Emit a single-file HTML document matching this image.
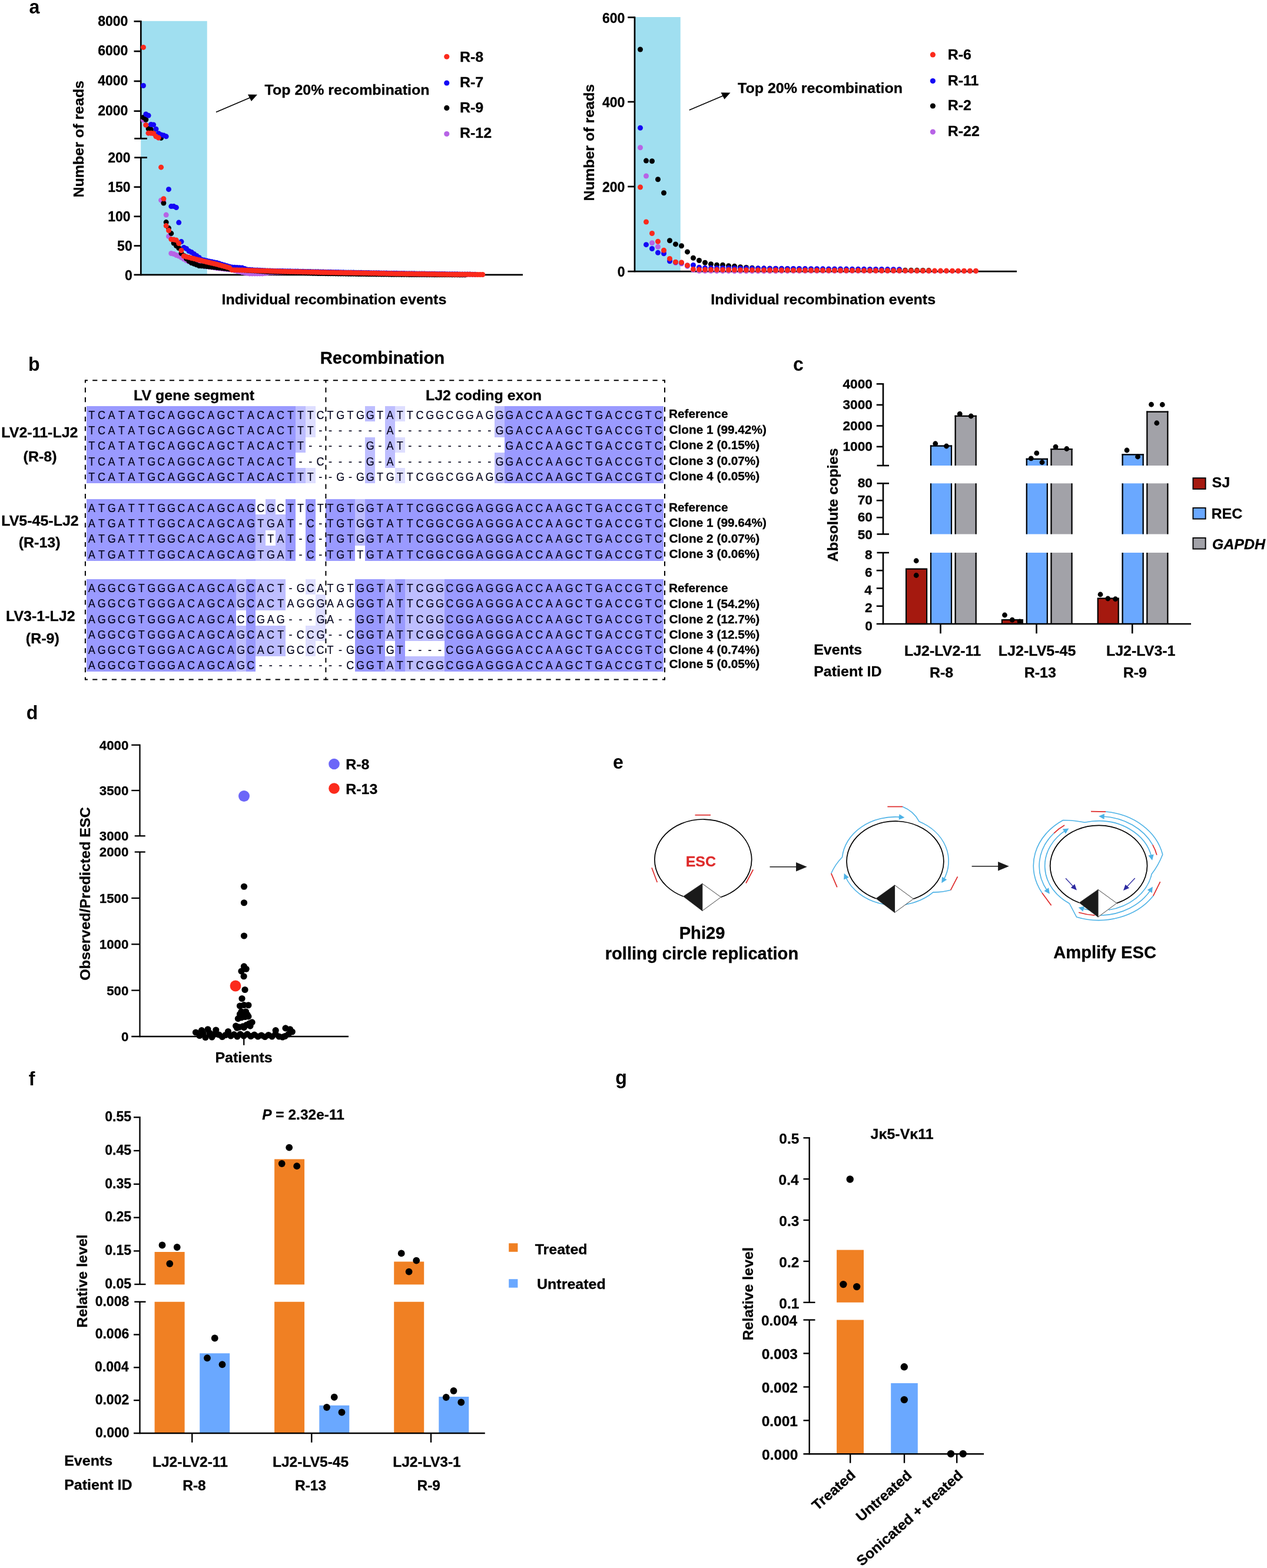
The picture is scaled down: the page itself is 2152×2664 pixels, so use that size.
<!DOCTYPE html>
<html lang="en">
<head>
<meta charset="utf-8">
<title>Figure</title>
<style>
html,body{margin:0;padding:0;background:#fff;}
body{width:2152px;height:2664px;overflow:hidden;}
svg{display:block;}
svg text{font-family:"Liberation Sans", Arial, Helvetica, sans-serif;font-weight:bold;white-space:pre;stroke:#000;stroke-width:.3px;}
svg text.n{font-weight:normal;stroke-width:.18px;fill:#05051e;stroke:#05051e;}
svg .i{font-style:italic;}
svg text.p{stroke:none;}
</style>
</head>
<body>
<svg xmlns="http://www.w3.org/2000/svg" width="2152" height="2664" viewBox="0 0 2152 2664">
<rect x="0" y="0" width="2152" height="2664" fill="#ffffff"/>
<rect x="239.20" y="35.75" width="112.55" height="431.65" fill="#a0dff0" />
<line x1="239.30" y1="34.90" x2="239.30" y2="235.40" stroke="#000" stroke-width="2.7" />
<line x1="239.30" y1="267.70" x2="239.30" y2="468.25" stroke="#000" stroke-width="2.7" />
<line x1="227.50" y1="36.25" x2="239.30" y2="36.25" stroke="#000" stroke-width="2.7" />
<line x1="227.50" y1="87.08" x2="239.30" y2="87.08" stroke="#000" stroke-width="2.7" />
<line x1="227.50" y1="137.92" x2="239.30" y2="137.92" stroke="#000" stroke-width="2.7" />
<line x1="227.50" y1="188.75" x2="239.30" y2="188.75" stroke="#000" stroke-width="2.7" />
<line x1="228.20" y1="235.40" x2="249.90" y2="235.40" stroke="#000" stroke-width="2.7" />
<line x1="228.20" y1="267.70" x2="249.90" y2="267.70" stroke="#000" stroke-width="2.7" />
<line x1="227.50" y1="317.75" x2="239.30" y2="317.75" stroke="#000" stroke-width="2.7" />
<line x1="227.50" y1="367.75" x2="239.30" y2="367.75" stroke="#000" stroke-width="2.7" />
<line x1="227.50" y1="417.60" x2="239.30" y2="417.60" stroke="#000" stroke-width="2.7" />
<line x1="227.50" y1="466.90" x2="888.00" y2="466.90" stroke="#000" stroke-width="2.7" />
<circle cx="243.50" cy="204.00" r="4.5" fill="#b763e6"/>
<circle cx="247.80" cy="212.39" r="4.5" fill="#b763e6"/>
<circle cx="252.10" cy="226.19" r="4.5" fill="#b763e6"/>
<circle cx="256.40" cy="226.19" r="4.5" fill="#b763e6"/>
<circle cx="260.70" cy="226.70" r="4.5" fill="#b763e6"/>
<circle cx="265.00" cy="231.81" r="4.5" fill="#b763e6"/>
<circle cx="269.30" cy="234.12" r="4.5" fill="#b763e6"/>
<circle cx="273.60" cy="340.13" r="4.5" fill="#b763e6"/>
<circle cx="277.90" cy="341.63" r="4.5" fill="#b763e6"/>
<circle cx="282.20" cy="365.10" r="4.5" fill="#b763e6"/>
<circle cx="286.50" cy="401.57" r="4.5" fill="#b763e6"/>
<circle cx="290.80" cy="430.54" r="4.5" fill="#b763e6"/>
<circle cx="295.10" cy="431.54" r="4.5" fill="#b763e6"/>
<circle cx="299.40" cy="433.53" r="4.5" fill="#b763e6"/>
<circle cx="303.70" cy="435.03" r="4.5" fill="#b763e6"/>
<circle cx="308.00" cy="437.53" r="4.5" fill="#b763e6"/>
<circle cx="312.30" cy="440.03" r="4.5" fill="#b763e6"/>
<circle cx="316.60" cy="442.52" r="4.5" fill="#b763e6"/>
<circle cx="320.90" cy="444.52" r="4.5" fill="#b763e6"/>
<circle cx="325.20" cy="446.52" r="4.5" fill="#b763e6"/>
<circle cx="329.50" cy="447.77" r="4.5" fill="#b763e6"/>
<circle cx="333.80" cy="449.02" r="4.5" fill="#b763e6"/>
<circle cx="338.10" cy="450.27" r="4.5" fill="#b763e6"/>
<circle cx="342.40" cy="451.52" r="4.5" fill="#b763e6"/>
<circle cx="346.70" cy="452.18" r="4.5" fill="#b763e6"/>
<circle cx="351.00" cy="452.85" r="4.5" fill="#b763e6"/>
<circle cx="355.30" cy="453.51" r="4.5" fill="#b763e6"/>
<circle cx="359.60" cy="454.18" r="4.5" fill="#b763e6"/>
<circle cx="363.90" cy="454.85" r="4.5" fill="#b763e6"/>
<circle cx="368.20" cy="455.51" r="4.5" fill="#b763e6"/>
<circle cx="372.50" cy="456.01" r="4.5" fill="#b763e6"/>
<circle cx="376.80" cy="456.51" r="4.5" fill="#b763e6"/>
<circle cx="381.10" cy="457.01" r="4.5" fill="#b763e6"/>
<circle cx="385.40" cy="457.51" r="4.5" fill="#b763e6"/>
<circle cx="389.70" cy="458.01" r="4.5" fill="#b763e6"/>
<circle cx="394.00" cy="458.51" r="4.5" fill="#b763e6"/>
<circle cx="398.30" cy="459.51" r="4.5" fill="#b763e6"/>
<circle cx="402.60" cy="460.51" r="4.5" fill="#b763e6"/>
<circle cx="406.90" cy="461.51" r="4.5" fill="#b763e6"/>
<circle cx="411.20" cy="462.50" r="4.5" fill="#b763e6"/>
<circle cx="415.50" cy="463.30" r="4.5" fill="#b763e6"/>
<circle cx="419.80" cy="464.10" r="4.5" fill="#b763e6"/>
<circle cx="424.10" cy="464.90" r="4.5" fill="#b763e6"/>
<circle cx="428.40" cy="464.90" r="4.5" fill="#b763e6"/>
<circle cx="432.70" cy="464.90" r="4.5" fill="#b763e6"/>
<circle cx="437.00" cy="464.90" r="4.5" fill="#b763e6"/>
<circle cx="441.30" cy="464.90" r="4.5" fill="#b763e6"/>
<circle cx="445.60" cy="464.90" r="4.5" fill="#b763e6"/>
<circle cx="449.90" cy="464.27" r="4.5" fill="#b763e6"/>
<circle cx="454.20" cy="463.64" r="4.5" fill="#b763e6"/>
<circle cx="458.50" cy="463.00" r="4.5" fill="#b763e6"/>
<circle cx="462.80" cy="462.95" r="4.5" fill="#b763e6"/>
<circle cx="467.10" cy="462.89" r="4.5" fill="#b763e6"/>
<circle cx="471.40" cy="462.84" r="4.5" fill="#b763e6"/>
<circle cx="475.70" cy="462.78" r="4.5" fill="#b763e6"/>
<circle cx="480.00" cy="462.73" r="4.5" fill="#b763e6"/>
<circle cx="484.30" cy="462.67" r="4.5" fill="#b763e6"/>
<circle cx="488.60" cy="462.62" r="4.5" fill="#b763e6"/>
<circle cx="492.90" cy="462.56" r="4.5" fill="#b763e6"/>
<circle cx="497.20" cy="462.50" r="4.5" fill="#b763e6"/>
<circle cx="501.50" cy="462.56" r="4.5" fill="#b763e6"/>
<circle cx="505.80" cy="462.62" r="4.5" fill="#b763e6"/>
<circle cx="510.10" cy="462.68" r="4.5" fill="#b763e6"/>
<circle cx="514.40" cy="462.74" r="4.5" fill="#b763e6"/>
<circle cx="518.70" cy="462.80" r="4.5" fill="#b763e6"/>
<circle cx="523.00" cy="462.86" r="4.5" fill="#b763e6"/>
<circle cx="527.30" cy="462.92" r="4.5" fill="#b763e6"/>
<circle cx="531.60" cy="462.98" r="4.5" fill="#b763e6"/>
<circle cx="535.90" cy="463.04" r="4.5" fill="#b763e6"/>
<circle cx="540.20" cy="463.10" r="4.5" fill="#b763e6"/>
<circle cx="544.50" cy="463.16" r="4.5" fill="#b763e6"/>
<circle cx="548.80" cy="463.22" r="4.5" fill="#b763e6"/>
<circle cx="553.10" cy="463.28" r="4.5" fill="#b763e6"/>
<circle cx="557.40" cy="463.34" r="4.5" fill="#b763e6"/>
<circle cx="561.70" cy="463.40" r="4.5" fill="#b763e6"/>
<circle cx="566.00" cy="463.46" r="4.5" fill="#b763e6"/>
<circle cx="570.30" cy="463.52" r="4.5" fill="#b763e6"/>
<circle cx="574.60" cy="463.58" r="4.5" fill="#b763e6"/>
<circle cx="578.90" cy="463.64" r="4.5" fill="#b763e6"/>
<circle cx="583.20" cy="463.70" r="4.5" fill="#b763e6"/>
<circle cx="587.50" cy="463.78" r="4.5" fill="#b763e6"/>
<circle cx="591.80" cy="463.86" r="4.5" fill="#b763e6"/>
<circle cx="596.10" cy="463.94" r="4.5" fill="#b763e6"/>
<circle cx="600.40" cy="464.02" r="4.5" fill="#b763e6"/>
<circle cx="604.70" cy="464.10" r="4.5" fill="#b763e6"/>
<circle cx="609.00" cy="464.18" r="4.5" fill="#b763e6"/>
<circle cx="613.30" cy="464.26" r="4.5" fill="#b763e6"/>
<circle cx="617.60" cy="464.34" r="4.5" fill="#b763e6"/>
<circle cx="621.90" cy="464.42" r="4.5" fill="#b763e6"/>
<circle cx="626.20" cy="464.50" r="4.5" fill="#b763e6"/>
<circle cx="630.50" cy="464.58" r="4.5" fill="#b763e6"/>
<circle cx="634.80" cy="464.66" r="4.5" fill="#b763e6"/>
<circle cx="639.10" cy="464.74" r="4.5" fill="#b763e6"/>
<circle cx="643.40" cy="464.82" r="4.5" fill="#b763e6"/>
<circle cx="647.70" cy="464.90" r="4.5" fill="#b763e6"/>
<circle cx="652.00" cy="464.98" r="4.5" fill="#b763e6"/>
<circle cx="656.30" cy="465.06" r="4.5" fill="#b763e6"/>
<circle cx="660.60" cy="465.14" r="4.5" fill="#b763e6"/>
<circle cx="664.90" cy="465.22" r="4.5" fill="#b763e6"/>
<circle cx="669.20" cy="465.30" r="4.5" fill="#b763e6"/>
<circle cx="673.50" cy="465.37" r="4.5" fill="#b763e6"/>
<circle cx="677.80" cy="465.44" r="4.5" fill="#b763e6"/>
<circle cx="682.10" cy="465.50" r="4.5" fill="#b763e6"/>
<circle cx="686.40" cy="465.57" r="4.5" fill="#b763e6"/>
<circle cx="690.70" cy="465.64" r="4.5" fill="#b763e6"/>
<circle cx="695.00" cy="465.70" r="4.5" fill="#b763e6"/>
<circle cx="699.30" cy="465.77" r="4.5" fill="#b763e6"/>
<circle cx="703.60" cy="465.83" r="4.5" fill="#b763e6"/>
<circle cx="707.90" cy="465.90" r="4.5" fill="#b763e6"/>
<circle cx="712.20" cy="465.97" r="4.5" fill="#b763e6"/>
<circle cx="716.50" cy="466.03" r="4.5" fill="#b763e6"/>
<circle cx="720.80" cy="466.10" r="4.5" fill="#b763e6"/>
<circle cx="725.10" cy="466.17" r="4.5" fill="#b763e6"/>
<circle cx="729.40" cy="466.23" r="4.5" fill="#b763e6"/>
<circle cx="733.70" cy="466.30" r="4.5" fill="#b763e6"/>
<circle cx="738.00" cy="466.37" r="4.5" fill="#b763e6"/>
<circle cx="742.30" cy="466.43" r="4.5" fill="#b763e6"/>
<circle cx="746.60" cy="466.50" r="4.5" fill="#b763e6"/>
<circle cx="243.50" cy="199.50" r="4.5" fill="#000000"/>
<circle cx="247.80" cy="203.21" r="4.5" fill="#000000"/>
<circle cx="252.10" cy="218.79" r="4.5" fill="#000000"/>
<circle cx="256.40" cy="219.81" r="4.5" fill="#000000"/>
<circle cx="260.70" cy="226.37" r="4.5" fill="#000000"/>
<circle cx="265.00" cy="230.43" r="4.5" fill="#000000"/>
<circle cx="269.30" cy="233.23" r="4.5" fill="#000000"/>
<circle cx="273.60" cy="234.42" r="4.5" fill="#000000"/>
<circle cx="277.90" cy="345.12" r="4.5" fill="#000000"/>
<circle cx="282.20" cy="377.59" r="4.5" fill="#000000"/>
<circle cx="286.50" cy="387.58" r="4.5" fill="#000000"/>
<circle cx="290.80" cy="396.57" r="4.5" fill="#000000"/>
<circle cx="295.10" cy="413.05" r="4.5" fill="#000000"/>
<circle cx="299.40" cy="417.55" r="4.5" fill="#000000"/>
<circle cx="303.70" cy="421.55" r="4.5" fill="#000000"/>
<circle cx="308.00" cy="430.54" r="4.5" fill="#000000"/>
<circle cx="312.30" cy="434.53" r="4.5" fill="#000000"/>
<circle cx="316.60" cy="439.53" r="4.5" fill="#000000"/>
<circle cx="320.90" cy="443.52" r="4.5" fill="#000000"/>
<circle cx="325.20" cy="446.52" r="4.5" fill="#000000"/>
<circle cx="329.50" cy="448.19" r="4.5" fill="#000000"/>
<circle cx="333.80" cy="449.85" r="4.5" fill="#000000"/>
<circle cx="338.10" cy="451.52" r="4.5" fill="#000000"/>
<circle cx="342.40" cy="451.85" r="4.5" fill="#000000"/>
<circle cx="346.70" cy="452.18" r="4.5" fill="#000000"/>
<circle cx="351.00" cy="452.51" r="4.5" fill="#000000"/>
<circle cx="355.30" cy="453.01" r="4.5" fill="#000000"/>
<circle cx="359.60" cy="453.51" r="4.5" fill="#000000"/>
<circle cx="363.90" cy="454.01" r="4.5" fill="#000000"/>
<circle cx="368.20" cy="454.51" r="4.5" fill="#000000"/>
<circle cx="372.50" cy="455.01" r="4.5" fill="#000000"/>
<circle cx="376.80" cy="455.51" r="4.5" fill="#000000"/>
<circle cx="381.10" cy="456.01" r="4.5" fill="#000000"/>
<circle cx="385.40" cy="456.51" r="4.5" fill="#000000"/>
<circle cx="389.70" cy="457.01" r="4.5" fill="#000000"/>
<circle cx="394.00" cy="457.51" r="4.5" fill="#000000"/>
<circle cx="398.30" cy="457.80" r="4.5" fill="#000000"/>
<circle cx="402.60" cy="458.08" r="4.5" fill="#000000"/>
<circle cx="406.90" cy="458.37" r="4.5" fill="#000000"/>
<circle cx="411.20" cy="458.65" r="4.5" fill="#000000"/>
<circle cx="415.50" cy="458.94" r="4.5" fill="#000000"/>
<circle cx="419.80" cy="459.22" r="4.5" fill="#000000"/>
<circle cx="424.10" cy="459.51" r="4.5" fill="#000000"/>
<circle cx="428.40" cy="459.79" r="4.5" fill="#000000"/>
<circle cx="432.70" cy="460.08" r="4.5" fill="#000000"/>
<circle cx="437.00" cy="460.36" r="4.5" fill="#000000"/>
<circle cx="441.30" cy="460.65" r="4.5" fill="#000000"/>
<circle cx="445.60" cy="460.94" r="4.5" fill="#000000"/>
<circle cx="449.90" cy="461.22" r="4.5" fill="#000000"/>
<circle cx="454.20" cy="461.51" r="4.5" fill="#000000"/>
<circle cx="458.50" cy="461.66" r="4.5" fill="#000000"/>
<circle cx="462.80" cy="461.81" r="4.5" fill="#000000"/>
<circle cx="467.10" cy="461.96" r="4.5" fill="#000000"/>
<circle cx="471.40" cy="462.11" r="4.5" fill="#000000"/>
<circle cx="475.70" cy="462.26" r="4.5" fill="#000000"/>
<circle cx="480.00" cy="462.41" r="4.5" fill="#000000"/>
<circle cx="484.30" cy="462.55" r="4.5" fill="#000000"/>
<circle cx="488.60" cy="462.70" r="4.5" fill="#000000"/>
<circle cx="492.90" cy="462.85" r="4.5" fill="#000000"/>
<circle cx="497.20" cy="463.00" r="4.5" fill="#000000"/>
<circle cx="501.50" cy="463.15" r="4.5" fill="#000000"/>
<circle cx="505.80" cy="463.30" r="4.5" fill="#000000"/>
<circle cx="510.10" cy="463.45" r="4.5" fill="#000000"/>
<circle cx="514.40" cy="463.60" r="4.5" fill="#000000"/>
<circle cx="518.70" cy="463.75" r="4.5" fill="#000000"/>
<circle cx="523.00" cy="463.90" r="4.5" fill="#000000"/>
<circle cx="527.30" cy="464.05" r="4.5" fill="#000000"/>
<circle cx="531.60" cy="464.20" r="4.5" fill="#000000"/>
<circle cx="535.90" cy="464.35" r="4.5" fill="#000000"/>
<circle cx="540.20" cy="464.50" r="4.5" fill="#000000"/>
<circle cx="544.50" cy="464.56" r="4.5" fill="#000000"/>
<circle cx="548.80" cy="464.62" r="4.5" fill="#000000"/>
<circle cx="553.10" cy="464.68" r="4.5" fill="#000000"/>
<circle cx="557.40" cy="464.74" r="4.5" fill="#000000"/>
<circle cx="561.70" cy="464.80" r="4.5" fill="#000000"/>
<circle cx="566.00" cy="464.86" r="4.5" fill="#000000"/>
<circle cx="570.30" cy="464.92" r="4.5" fill="#000000"/>
<circle cx="574.60" cy="464.98" r="4.5" fill="#000000"/>
<circle cx="578.90" cy="465.04" r="4.5" fill="#000000"/>
<circle cx="583.20" cy="465.10" r="4.5" fill="#000000"/>
<circle cx="587.50" cy="465.16" r="4.5" fill="#000000"/>
<circle cx="591.80" cy="465.22" r="4.5" fill="#000000"/>
<circle cx="596.10" cy="465.28" r="4.5" fill="#000000"/>
<circle cx="600.40" cy="465.34" r="4.5" fill="#000000"/>
<circle cx="604.70" cy="465.40" r="4.5" fill="#000000"/>
<circle cx="609.00" cy="465.46" r="4.5" fill="#000000"/>
<circle cx="613.30" cy="465.52" r="4.5" fill="#000000"/>
<circle cx="617.60" cy="465.58" r="4.5" fill="#000000"/>
<circle cx="621.90" cy="465.64" r="4.5" fill="#000000"/>
<circle cx="626.20" cy="465.70" r="4.5" fill="#000000"/>
<circle cx="630.50" cy="465.76" r="4.5" fill="#000000"/>
<circle cx="634.80" cy="465.82" r="4.5" fill="#000000"/>
<circle cx="639.10" cy="465.88" r="4.5" fill="#000000"/>
<circle cx="643.40" cy="465.94" r="4.5" fill="#000000"/>
<circle cx="647.70" cy="466.00" r="4.5" fill="#000000"/>
<circle cx="652.00" cy="466.06" r="4.5" fill="#000000"/>
<circle cx="656.30" cy="466.12" r="4.5" fill="#000000"/>
<circle cx="660.60" cy="466.18" r="4.5" fill="#000000"/>
<circle cx="664.90" cy="466.24" r="4.5" fill="#000000"/>
<circle cx="669.20" cy="466.30" r="4.5" fill="#000000"/>
<circle cx="673.50" cy="466.33" r="4.5" fill="#000000"/>
<circle cx="677.80" cy="466.35" r="4.5" fill="#000000"/>
<circle cx="682.10" cy="466.38" r="4.5" fill="#000000"/>
<circle cx="686.40" cy="466.40" r="4.5" fill="#000000"/>
<circle cx="690.70" cy="466.43" r="4.5" fill="#000000"/>
<circle cx="695.00" cy="466.45" r="4.5" fill="#000000"/>
<circle cx="699.30" cy="466.48" r="4.5" fill="#000000"/>
<circle cx="703.60" cy="466.50" r="4.5" fill="#000000"/>
<circle cx="707.90" cy="466.53" r="4.5" fill="#000000"/>
<circle cx="712.20" cy="466.55" r="4.5" fill="#000000"/>
<circle cx="716.50" cy="466.58" r="4.5" fill="#000000"/>
<circle cx="720.80" cy="466.60" r="4.5" fill="#000000"/>
<circle cx="725.10" cy="466.63" r="4.5" fill="#000000"/>
<circle cx="729.40" cy="466.65" r="4.5" fill="#000000"/>
<circle cx="733.70" cy="466.68" r="4.5" fill="#000000"/>
<circle cx="738.00" cy="466.70" r="4.5" fill="#000000"/>
<circle cx="742.30" cy="466.73" r="4.5" fill="#000000"/>
<circle cx="746.60" cy="466.75" r="4.5" fill="#000000"/>
<circle cx="750.90" cy="466.78" r="4.5" fill="#000000"/>
<circle cx="755.20" cy="466.80" r="4.5" fill="#000000"/>
<circle cx="759.50" cy="466.83" r="4.5" fill="#000000"/>
<circle cx="763.80" cy="466.85" r="4.5" fill="#000000"/>
<circle cx="768.10" cy="466.88" r="4.5" fill="#000000"/>
<circle cx="772.40" cy="466.90" r="4.5" fill="#000000"/>
<circle cx="776.70" cy="466.93" r="4.5" fill="#000000"/>
<circle cx="781.00" cy="466.95" r="4.5" fill="#000000"/>
<circle cx="785.30" cy="466.98" r="4.5" fill="#000000"/>
<circle cx="789.60" cy="467.00" r="4.5" fill="#000000"/>
<circle cx="243.50" cy="145.54" r="4.5" fill="#1408f5"/>
<circle cx="247.80" cy="194.01" r="4.5" fill="#1408f5"/>
<circle cx="252.10" cy="196.30" r="4.5" fill="#1408f5"/>
<circle cx="256.40" cy="211.50" r="4.5" fill="#1408f5"/>
<circle cx="260.70" cy="211.88" r="4.5" fill="#1408f5"/>
<circle cx="265.00" cy="219.25" r="4.5" fill="#1408f5"/>
<circle cx="269.30" cy="226.70" r="4.5" fill="#1408f5"/>
<circle cx="273.60" cy="229.01" r="4.5" fill="#1408f5"/>
<circle cx="277.90" cy="229.93" r="4.5" fill="#1408f5"/>
<circle cx="282.20" cy="231.81" r="4.5" fill="#1408f5"/>
<circle cx="286.50" cy="321.65" r="4.5" fill="#1408f5"/>
<circle cx="290.80" cy="350.62" r="4.5" fill="#1408f5"/>
<circle cx="295.10" cy="350.62" r="4.5" fill="#1408f5"/>
<circle cx="299.40" cy="352.62" r="4.5" fill="#1408f5"/>
<circle cx="303.70" cy="378.09" r="4.5" fill="#1408f5"/>
<circle cx="308.00" cy="410.56" r="4.5" fill="#1408f5"/>
<circle cx="312.30" cy="420.55" r="4.5" fill="#1408f5"/>
<circle cx="316.60" cy="422.55" r="4.5" fill="#1408f5"/>
<circle cx="320.90" cy="426.54" r="4.5" fill="#1408f5"/>
<circle cx="325.20" cy="428.54" r="4.5" fill="#1408f5"/>
<circle cx="329.50" cy="431.54" r="4.5" fill="#1408f5"/>
<circle cx="333.80" cy="434.53" r="4.5" fill="#1408f5"/>
<circle cx="338.10" cy="437.53" r="4.5" fill="#1408f5"/>
<circle cx="342.40" cy="441.03" r="4.5" fill="#1408f5"/>
<circle cx="346.70" cy="442.03" r="4.5" fill="#1408f5"/>
<circle cx="351.00" cy="443.02" r="4.5" fill="#1408f5"/>
<circle cx="355.30" cy="443.90" r="4.5" fill="#1408f5"/>
<circle cx="359.60" cy="444.77" r="4.5" fill="#1408f5"/>
<circle cx="363.90" cy="445.65" r="4.5" fill="#1408f5"/>
<circle cx="368.20" cy="446.52" r="4.5" fill="#1408f5"/>
<circle cx="372.50" cy="447.85" r="4.5" fill="#1408f5"/>
<circle cx="376.80" cy="449.19" r="4.5" fill="#1408f5"/>
<circle cx="381.10" cy="450.52" r="4.5" fill="#1408f5"/>
<circle cx="385.40" cy="451.77" r="4.5" fill="#1408f5"/>
<circle cx="389.70" cy="453.01" r="4.5" fill="#1408f5"/>
<circle cx="394.00" cy="454.01" r="4.5" fill="#1408f5"/>
<circle cx="398.30" cy="454.26" r="4.5" fill="#1408f5"/>
<circle cx="402.60" cy="454.51" r="4.5" fill="#1408f5"/>
<circle cx="406.90" cy="454.76" r="4.5" fill="#1408f5"/>
<circle cx="411.20" cy="455.01" r="4.5" fill="#1408f5"/>
<circle cx="415.50" cy="456.51" r="4.5" fill="#1408f5"/>
<circle cx="419.80" cy="458.01" r="4.5" fill="#1408f5"/>
<circle cx="424.10" cy="458.31" r="4.5" fill="#1408f5"/>
<circle cx="428.40" cy="458.61" r="4.5" fill="#1408f5"/>
<circle cx="432.70" cy="458.91" r="4.5" fill="#1408f5"/>
<circle cx="437.00" cy="459.11" r="4.5" fill="#1408f5"/>
<circle cx="441.30" cy="459.31" r="4.5" fill="#1408f5"/>
<circle cx="445.60" cy="459.51" r="4.5" fill="#1408f5"/>
<circle cx="449.90" cy="459.71" r="4.5" fill="#1408f5"/>
<circle cx="454.20" cy="459.91" r="4.5" fill="#1408f5"/>
<circle cx="458.50" cy="460.11" r="4.5" fill="#1408f5"/>
<circle cx="462.80" cy="460.31" r="4.5" fill="#1408f5"/>
<circle cx="467.10" cy="460.38" r="4.5" fill="#1408f5"/>
<circle cx="471.40" cy="460.46" r="4.5" fill="#1408f5"/>
<circle cx="475.70" cy="460.53" r="4.5" fill="#1408f5"/>
<circle cx="480.00" cy="460.61" r="4.5" fill="#1408f5"/>
<circle cx="484.30" cy="460.68" r="4.5" fill="#1408f5"/>
<circle cx="488.60" cy="460.76" r="4.5" fill="#1408f5"/>
<circle cx="492.90" cy="460.83" r="4.5" fill="#1408f5"/>
<circle cx="497.20" cy="460.91" r="4.5" fill="#1408f5"/>
<circle cx="501.50" cy="461.00" r="4.5" fill="#1408f5"/>
<circle cx="505.80" cy="461.10" r="4.5" fill="#1408f5"/>
<circle cx="510.10" cy="461.19" r="4.5" fill="#1408f5"/>
<circle cx="514.40" cy="461.29" r="4.5" fill="#1408f5"/>
<circle cx="518.70" cy="461.38" r="4.5" fill="#1408f5"/>
<circle cx="523.00" cy="461.48" r="4.5" fill="#1408f5"/>
<circle cx="527.30" cy="461.57" r="4.5" fill="#1408f5"/>
<circle cx="531.60" cy="461.67" r="4.5" fill="#1408f5"/>
<circle cx="535.90" cy="461.76" r="4.5" fill="#1408f5"/>
<circle cx="540.20" cy="461.86" r="4.5" fill="#1408f5"/>
<circle cx="544.50" cy="461.95" r="4.5" fill="#1408f5"/>
<circle cx="548.80" cy="462.05" r="4.5" fill="#1408f5"/>
<circle cx="553.10" cy="462.14" r="4.5" fill="#1408f5"/>
<circle cx="557.40" cy="462.24" r="4.5" fill="#1408f5"/>
<circle cx="561.70" cy="462.33" r="4.5" fill="#1408f5"/>
<circle cx="566.00" cy="462.43" r="4.5" fill="#1408f5"/>
<circle cx="570.30" cy="462.52" r="4.5" fill="#1408f5"/>
<circle cx="574.60" cy="462.61" r="4.5" fill="#1408f5"/>
<circle cx="578.90" cy="462.71" r="4.5" fill="#1408f5"/>
<circle cx="583.20" cy="462.80" r="4.5" fill="#1408f5"/>
<circle cx="587.50" cy="462.88" r="4.5" fill="#1408f5"/>
<circle cx="591.80" cy="462.95" r="4.5" fill="#1408f5"/>
<circle cx="596.10" cy="463.03" r="4.5" fill="#1408f5"/>
<circle cx="600.40" cy="463.10" r="4.5" fill="#1408f5"/>
<circle cx="604.70" cy="463.18" r="4.5" fill="#1408f5"/>
<circle cx="609.00" cy="463.25" r="4.5" fill="#1408f5"/>
<circle cx="613.30" cy="463.33" r="4.5" fill="#1408f5"/>
<circle cx="617.60" cy="463.40" r="4.5" fill="#1408f5"/>
<circle cx="621.90" cy="463.48" r="4.5" fill="#1408f5"/>
<circle cx="626.20" cy="463.55" r="4.5" fill="#1408f5"/>
<circle cx="630.50" cy="463.63" r="4.5" fill="#1408f5"/>
<circle cx="634.80" cy="463.70" r="4.5" fill="#1408f5"/>
<circle cx="639.10" cy="463.78" r="4.5" fill="#1408f5"/>
<circle cx="643.40" cy="463.85" r="4.5" fill="#1408f5"/>
<circle cx="647.70" cy="463.93" r="4.5" fill="#1408f5"/>
<circle cx="652.00" cy="464.00" r="4.5" fill="#1408f5"/>
<circle cx="656.30" cy="464.08" r="4.5" fill="#1408f5"/>
<circle cx="660.60" cy="464.15" r="4.5" fill="#1408f5"/>
<circle cx="664.90" cy="464.23" r="4.5" fill="#1408f5"/>
<circle cx="669.20" cy="464.30" r="4.5" fill="#1408f5"/>
<circle cx="673.50" cy="464.37" r="4.5" fill="#1408f5"/>
<circle cx="677.80" cy="464.44" r="4.5" fill="#1408f5"/>
<circle cx="682.10" cy="464.50" r="4.5" fill="#1408f5"/>
<circle cx="686.40" cy="464.57" r="4.5" fill="#1408f5"/>
<circle cx="690.70" cy="464.64" r="4.5" fill="#1408f5"/>
<circle cx="695.00" cy="464.70" r="4.5" fill="#1408f5"/>
<circle cx="699.30" cy="464.77" r="4.5" fill="#1408f5"/>
<circle cx="703.60" cy="464.84" r="4.5" fill="#1408f5"/>
<circle cx="707.90" cy="464.90" r="4.5" fill="#1408f5"/>
<circle cx="712.20" cy="464.97" r="4.5" fill="#1408f5"/>
<circle cx="716.50" cy="465.04" r="4.5" fill="#1408f5"/>
<circle cx="720.80" cy="465.10" r="4.5" fill="#1408f5"/>
<circle cx="725.10" cy="465.17" r="4.5" fill="#1408f5"/>
<circle cx="729.40" cy="465.24" r="4.5" fill="#1408f5"/>
<circle cx="733.70" cy="465.30" r="4.5" fill="#1408f5"/>
<circle cx="738.00" cy="465.37" r="4.5" fill="#1408f5"/>
<circle cx="742.30" cy="465.44" r="4.5" fill="#1408f5"/>
<circle cx="746.60" cy="465.50" r="4.5" fill="#1408f5"/>
<circle cx="750.90" cy="465.55" r="4.5" fill="#1408f5"/>
<circle cx="755.20" cy="465.60" r="4.5" fill="#1408f5"/>
<circle cx="759.50" cy="465.65" r="4.5" fill="#1408f5"/>
<circle cx="763.80" cy="465.70" r="4.5" fill="#1408f5"/>
<circle cx="768.10" cy="465.75" r="4.5" fill="#1408f5"/>
<circle cx="772.40" cy="465.80" r="4.5" fill="#1408f5"/>
<circle cx="776.70" cy="465.85" r="4.5" fill="#1408f5"/>
<circle cx="781.00" cy="465.90" r="4.5" fill="#1408f5"/>
<circle cx="785.30" cy="465.95" r="4.5" fill="#1408f5"/>
<circle cx="789.60" cy="466.00" r="4.5" fill="#1408f5"/>
<circle cx="793.90" cy="466.05" r="4.5" fill="#1408f5"/>
<circle cx="798.20" cy="466.10" r="4.5" fill="#1408f5"/>
<circle cx="802.50" cy="466.15" r="4.5" fill="#1408f5"/>
<circle cx="806.80" cy="466.20" r="4.5" fill="#1408f5"/>
<circle cx="243.50" cy="80.40" r="4.5" fill="#fb2a1c"/>
<circle cx="247.80" cy="212.39" r="4.5" fill="#fb2a1c"/>
<circle cx="252.10" cy="226.19" r="4.5" fill="#fb2a1c"/>
<circle cx="256.40" cy="226.19" r="4.5" fill="#fb2a1c"/>
<circle cx="260.70" cy="226.70" r="4.5" fill="#fb2a1c"/>
<circle cx="265.00" cy="231.81" r="4.5" fill="#fb2a1c"/>
<circle cx="269.30" cy="234.12" r="4.5" fill="#fb2a1c"/>
<circle cx="273.60" cy="284.18" r="4.5" fill="#fb2a1c"/>
<circle cx="277.90" cy="337.63" r="4.5" fill="#fb2a1c"/>
<circle cx="282.20" cy="383.58" r="4.5" fill="#fb2a1c"/>
<circle cx="286.50" cy="391.58" r="4.5" fill="#fb2a1c"/>
<circle cx="290.80" cy="406.56" r="4.5" fill="#fb2a1c"/>
<circle cx="295.10" cy="407.06" r="4.5" fill="#fb2a1c"/>
<circle cx="299.40" cy="408.06" r="4.5" fill="#fb2a1c"/>
<circle cx="303.70" cy="413.55" r="4.5" fill="#fb2a1c"/>
<circle cx="308.00" cy="425.54" r="4.5" fill="#fb2a1c"/>
<circle cx="312.30" cy="435.03" r="4.5" fill="#fb2a1c"/>
<circle cx="316.60" cy="436.20" r="4.5" fill="#fb2a1c"/>
<circle cx="320.90" cy="437.36" r="4.5" fill="#fb2a1c"/>
<circle cx="325.20" cy="438.53" r="4.5" fill="#fb2a1c"/>
<circle cx="329.50" cy="439.61" r="4.5" fill="#fb2a1c"/>
<circle cx="333.80" cy="440.69" r="4.5" fill="#fb2a1c"/>
<circle cx="338.10" cy="441.78" r="4.5" fill="#fb2a1c"/>
<circle cx="342.40" cy="442.86" r="4.5" fill="#fb2a1c"/>
<circle cx="346.70" cy="443.94" r="4.5" fill="#fb2a1c"/>
<circle cx="351.00" cy="445.02" r="4.5" fill="#fb2a1c"/>
<circle cx="355.30" cy="446.02" r="4.5" fill="#fb2a1c"/>
<circle cx="359.60" cy="447.02" r="4.5" fill="#fb2a1c"/>
<circle cx="363.90" cy="448.02" r="4.5" fill="#fb2a1c"/>
<circle cx="368.20" cy="449.02" r="4.5" fill="#fb2a1c"/>
<circle cx="372.50" cy="450.22" r="4.5" fill="#fb2a1c"/>
<circle cx="376.80" cy="451.42" r="4.5" fill="#fb2a1c"/>
<circle cx="381.10" cy="452.61" r="4.5" fill="#fb2a1c"/>
<circle cx="385.40" cy="453.81" r="4.5" fill="#fb2a1c"/>
<circle cx="389.70" cy="455.01" r="4.5" fill="#fb2a1c"/>
<circle cx="394.00" cy="458.51" r="4.5" fill="#fb2a1c"/>
<circle cx="398.30" cy="458.63" r="4.5" fill="#fb2a1c"/>
<circle cx="402.60" cy="458.76" r="4.5" fill="#fb2a1c"/>
<circle cx="406.90" cy="458.88" r="4.5" fill="#fb2a1c"/>
<circle cx="411.20" cy="459.01" r="4.5" fill="#fb2a1c"/>
<circle cx="415.50" cy="459.14" r="4.5" fill="#fb2a1c"/>
<circle cx="419.80" cy="459.28" r="4.5" fill="#fb2a1c"/>
<circle cx="424.10" cy="459.41" r="4.5" fill="#fb2a1c"/>
<circle cx="428.40" cy="459.55" r="4.5" fill="#fb2a1c"/>
<circle cx="432.70" cy="459.68" r="4.5" fill="#fb2a1c"/>
<circle cx="437.00" cy="459.82" r="4.5" fill="#fb2a1c"/>
<circle cx="441.30" cy="459.95" r="4.5" fill="#fb2a1c"/>
<circle cx="445.60" cy="460.09" r="4.5" fill="#fb2a1c"/>
<circle cx="449.90" cy="460.22" r="4.5" fill="#fb2a1c"/>
<circle cx="454.20" cy="460.36" r="4.5" fill="#fb2a1c"/>
<circle cx="458.50" cy="460.50" r="4.5" fill="#fb2a1c"/>
<circle cx="462.80" cy="460.63" r="4.5" fill="#fb2a1c"/>
<circle cx="467.10" cy="460.77" r="4.5" fill="#fb2a1c"/>
<circle cx="471.40" cy="460.90" r="4.5" fill="#fb2a1c"/>
<circle cx="475.70" cy="461.04" r="4.5" fill="#fb2a1c"/>
<circle cx="480.00" cy="461.17" r="4.5" fill="#fb2a1c"/>
<circle cx="484.30" cy="461.31" r="4.5" fill="#fb2a1c"/>
<circle cx="488.60" cy="461.40" r="4.5" fill="#fb2a1c"/>
<circle cx="492.90" cy="461.49" r="4.5" fill="#fb2a1c"/>
<circle cx="497.20" cy="461.59" r="4.5" fill="#fb2a1c"/>
<circle cx="501.50" cy="461.68" r="4.5" fill="#fb2a1c"/>
<circle cx="505.80" cy="461.78" r="4.5" fill="#fb2a1c"/>
<circle cx="510.10" cy="461.87" r="4.5" fill="#fb2a1c"/>
<circle cx="514.40" cy="461.97" r="4.5" fill="#fb2a1c"/>
<circle cx="518.70" cy="462.06" r="4.5" fill="#fb2a1c"/>
<circle cx="523.00" cy="462.16" r="4.5" fill="#fb2a1c"/>
<circle cx="527.30" cy="462.25" r="4.5" fill="#fb2a1c"/>
<circle cx="531.60" cy="462.34" r="4.5" fill="#fb2a1c"/>
<circle cx="535.90" cy="462.44" r="4.5" fill="#fb2a1c"/>
<circle cx="540.20" cy="462.53" r="4.5" fill="#fb2a1c"/>
<circle cx="544.50" cy="462.63" r="4.5" fill="#fb2a1c"/>
<circle cx="548.80" cy="462.72" r="4.5" fill="#fb2a1c"/>
<circle cx="553.10" cy="462.82" r="4.5" fill="#fb2a1c"/>
<circle cx="557.40" cy="462.91" r="4.5" fill="#fb2a1c"/>
<circle cx="561.70" cy="463.00" r="4.5" fill="#fb2a1c"/>
<circle cx="566.00" cy="463.08" r="4.5" fill="#fb2a1c"/>
<circle cx="570.30" cy="463.16" r="4.5" fill="#fb2a1c"/>
<circle cx="574.60" cy="463.23" r="4.5" fill="#fb2a1c"/>
<circle cx="578.90" cy="463.31" r="4.5" fill="#fb2a1c"/>
<circle cx="583.20" cy="463.38" r="4.5" fill="#fb2a1c"/>
<circle cx="587.50" cy="463.46" r="4.5" fill="#fb2a1c"/>
<circle cx="591.80" cy="463.54" r="4.5" fill="#fb2a1c"/>
<circle cx="596.10" cy="463.61" r="4.5" fill="#fb2a1c"/>
<circle cx="600.40" cy="463.69" r="4.5" fill="#fb2a1c"/>
<circle cx="604.70" cy="463.76" r="4.5" fill="#fb2a1c"/>
<circle cx="609.00" cy="463.84" r="4.5" fill="#fb2a1c"/>
<circle cx="613.30" cy="463.92" r="4.5" fill="#fb2a1c"/>
<circle cx="617.60" cy="463.99" r="4.5" fill="#fb2a1c"/>
<circle cx="621.90" cy="464.07" r="4.5" fill="#fb2a1c"/>
<circle cx="626.20" cy="464.14" r="4.5" fill="#fb2a1c"/>
<circle cx="630.50" cy="464.22" r="4.5" fill="#fb2a1c"/>
<circle cx="634.80" cy="464.30" r="4.5" fill="#fb2a1c"/>
<circle cx="639.10" cy="464.37" r="4.5" fill="#fb2a1c"/>
<circle cx="643.40" cy="464.45" r="4.5" fill="#fb2a1c"/>
<circle cx="647.70" cy="464.52" r="4.5" fill="#fb2a1c"/>
<circle cx="652.00" cy="464.60" r="4.5" fill="#fb2a1c"/>
<circle cx="656.30" cy="464.67" r="4.5" fill="#fb2a1c"/>
<circle cx="660.60" cy="464.75" r="4.5" fill="#fb2a1c"/>
<circle cx="664.90" cy="464.83" r="4.5" fill="#fb2a1c"/>
<circle cx="669.20" cy="464.90" r="4.5" fill="#fb2a1c"/>
<circle cx="673.50" cy="464.96" r="4.5" fill="#fb2a1c"/>
<circle cx="677.80" cy="465.02" r="4.5" fill="#fb2a1c"/>
<circle cx="682.10" cy="465.08" r="4.5" fill="#fb2a1c"/>
<circle cx="686.40" cy="465.14" r="4.5" fill="#fb2a1c"/>
<circle cx="690.70" cy="465.20" r="4.5" fill="#fb2a1c"/>
<circle cx="695.00" cy="465.26" r="4.5" fill="#fb2a1c"/>
<circle cx="699.30" cy="465.32" r="4.5" fill="#fb2a1c"/>
<circle cx="703.60" cy="465.38" r="4.5" fill="#fb2a1c"/>
<circle cx="707.90" cy="465.44" r="4.5" fill="#fb2a1c"/>
<circle cx="712.20" cy="465.50" r="4.5" fill="#fb2a1c"/>
<circle cx="716.50" cy="465.56" r="4.5" fill="#fb2a1c"/>
<circle cx="720.80" cy="465.62" r="4.5" fill="#fb2a1c"/>
<circle cx="725.10" cy="465.68" r="4.5" fill="#fb2a1c"/>
<circle cx="729.40" cy="465.74" r="4.5" fill="#fb2a1c"/>
<circle cx="733.70" cy="465.80" r="4.5" fill="#fb2a1c"/>
<circle cx="738.00" cy="465.86" r="4.5" fill="#fb2a1c"/>
<circle cx="742.30" cy="465.92" r="4.5" fill="#fb2a1c"/>
<circle cx="746.60" cy="465.98" r="4.5" fill="#fb2a1c"/>
<circle cx="750.90" cy="466.04" r="4.5" fill="#fb2a1c"/>
<circle cx="755.20" cy="466.10" r="4.5" fill="#fb2a1c"/>
<circle cx="759.50" cy="466.13" r="4.5" fill="#fb2a1c"/>
<circle cx="763.80" cy="466.15" r="4.5" fill="#fb2a1c"/>
<circle cx="768.10" cy="466.18" r="4.5" fill="#fb2a1c"/>
<circle cx="772.40" cy="466.21" r="4.5" fill="#fb2a1c"/>
<circle cx="776.70" cy="466.23" r="4.5" fill="#fb2a1c"/>
<circle cx="781.00" cy="466.26" r="4.5" fill="#fb2a1c"/>
<circle cx="785.30" cy="466.29" r="4.5" fill="#fb2a1c"/>
<circle cx="789.60" cy="466.31" r="4.5" fill="#fb2a1c"/>
<circle cx="793.90" cy="466.34" r="4.5" fill="#fb2a1c"/>
<circle cx="798.20" cy="466.37" r="4.5" fill="#fb2a1c"/>
<circle cx="802.50" cy="466.39" r="4.5" fill="#fb2a1c"/>
<circle cx="806.80" cy="466.42" r="4.5" fill="#fb2a1c"/>
<circle cx="811.10" cy="466.45" r="4.5" fill="#fb2a1c"/>
<circle cx="815.40" cy="466.47" r="4.5" fill="#fb2a1c"/>
<circle cx="819.70" cy="466.50" r="4.5" fill="#fb2a1c"/>
<text font-size="23.6" transform="translate(166.24 43.65) scale(0.975 1)">8000</text>
<text font-size="23.6" transform="translate(166.24 94.48) scale(0.975 1)">6000</text>
<text font-size="23.6" transform="translate(166.24 145.32) scale(0.975 1)">4000</text>
<text font-size="23.6" transform="translate(166.24 196.15) scale(0.975 1)">2000</text>
<text font-size="23.6" transform="translate(183.24 275.60) scale(0.975 1)">200</text>
<text font-size="23.6" transform="translate(183.24 326.25) scale(0.975 1)">150</text>
<text font-size="23.6" transform="translate(183.24 376.25) scale(0.975 1)">100</text>
<text font-size="23.6" transform="translate(199.09 426.25) scale(0.975 1)">50</text>
<text font-size="23.6" transform="translate(211.89 476.25) scale(0.975 1)">0</text>
<text x="-96.42" y="0.00" font-size="24.2" transform="translate(142.40 235.90) rotate(-90) scale(1.033 1)">Number of reads</text>
<text font-size="24.2" transform="translate(376.44 517.00) scale(1.033 1)">Individual recombination events</text>
<line x1="367.00" y1="190.50" x2="428.00" y2="164.60" stroke="#000" stroke-width="1.6" />
<polygon points="437.00,160.75 421.00,160.40 426.90,172.00" fill="#000" />
<text font-size="24.2" transform="translate(449.50 160.75) scale(1.033 1)">Top 20% recombination</text>
<circle cx="758.75" cy="96.25" r="4.6" fill="#fb2a1c"/>
<text font-size="24.2" transform="translate(780.94 104.75) scale(1.033 1)">R-8</text>
<circle cx="758.75" cy="141.00" r="4.6" fill="#1408f5"/>
<text font-size="24.2" transform="translate(780.94 148.10) scale(1.033 1)">R-7</text>
<circle cx="758.75" cy="183.40" r="4.6" fill="#000000"/>
<text font-size="24.2" transform="translate(780.94 190.60) scale(1.033 1)">R-9</text>
<circle cx="758.75" cy="227.50" r="4.6" fill="#b763e6"/>
<text font-size="24.2" transform="translate(780.94 234.40) scale(1.033 1)">R-12</text>
<text class="p" font-size="32.8" transform="translate(49.50 23.00) scale(0.98 1)">a</text>
<rect x="1078.00" y="29.00" width="77.75" height="432.00" fill="#a0dff0" />
<line x1="1078.00" y1="28.15" x2="1078.00" y2="462.35" stroke="#000" stroke-width="2.7" />
<line x1="1066.20" y1="29.50" x2="1078.00" y2="29.50" stroke="#000" stroke-width="2.7" />
<line x1="1066.20" y1="173.00" x2="1078.00" y2="173.00" stroke="#000" stroke-width="2.7" />
<line x1="1066.20" y1="317.00" x2="1078.00" y2="317.00" stroke="#000" stroke-width="2.7" />
<line x1="1066.20" y1="461.10" x2="1727.00" y2="461.10" stroke="#000" stroke-width="2.7" />
<circle cx="1087.50" cy="250.76" r="4.5" fill="#b763e6"/>
<circle cx="1097.50" cy="299.00" r="4.5" fill="#b763e6"/>
<circle cx="1107.50" cy="412.76" r="4.5" fill="#b763e6"/>
<circle cx="1117.50" cy="419.24" r="4.5" fill="#b763e6"/>
<circle cx="1127.50" cy="427.88" r="4.5" fill="#b763e6"/>
<circle cx="1137.50" cy="440.84" r="4.5" fill="#b763e6"/>
<circle cx="1147.50" cy="446.60" r="4.5" fill="#b763e6"/>
<circle cx="1157.50" cy="448.04" r="4.5" fill="#b763e6"/>
<circle cx="1167.50" cy="452.36" r="4.5" fill="#b763e6"/>
<circle cx="1177.50" cy="458.84" r="4.5" fill="#b763e6"/>
<circle cx="1187.50" cy="460.28" r="4.5" fill="#b763e6"/>
<circle cx="1197.50" cy="460.31" r="4.5" fill="#b763e6"/>
<circle cx="1207.50" cy="460.34" r="4.5" fill="#b763e6"/>
<circle cx="1217.50" cy="460.38" r="4.5" fill="#b763e6"/>
<circle cx="1227.50" cy="460.41" r="4.5" fill="#b763e6"/>
<circle cx="1237.50" cy="460.44" r="4.5" fill="#b763e6"/>
<circle cx="1247.50" cy="460.47" r="4.5" fill="#b763e6"/>
<circle cx="1257.50" cy="460.50" r="4.5" fill="#b763e6"/>
<circle cx="1267.50" cy="460.54" r="4.5" fill="#b763e6"/>
<circle cx="1277.50" cy="460.57" r="4.5" fill="#b763e6"/>
<circle cx="1287.50" cy="460.54" r="4.5" fill="#b763e6"/>
<circle cx="1297.50" cy="460.51" r="4.5" fill="#b763e6"/>
<circle cx="1307.50" cy="460.48" r="4.5" fill="#b763e6"/>
<circle cx="1317.50" cy="460.45" r="4.5" fill="#b763e6"/>
<circle cx="1327.50" cy="460.42" r="4.5" fill="#b763e6"/>
<circle cx="1337.50" cy="460.40" r="4.5" fill="#b763e6"/>
<circle cx="1347.50" cy="460.37" r="4.5" fill="#b763e6"/>
<circle cx="1357.50" cy="460.34" r="4.5" fill="#b763e6"/>
<circle cx="1367.50" cy="460.31" r="4.5" fill="#b763e6"/>
<circle cx="1377.50" cy="460.28" r="4.5" fill="#b763e6"/>
<circle cx="1387.50" cy="460.29" r="4.5" fill="#b763e6"/>
<circle cx="1397.50" cy="460.29" r="4.5" fill="#b763e6"/>
<circle cx="1407.50" cy="460.30" r="4.5" fill="#b763e6"/>
<circle cx="1417.50" cy="460.30" r="4.5" fill="#b763e6"/>
<circle cx="1427.50" cy="460.31" r="4.5" fill="#b763e6"/>
<circle cx="1437.50" cy="460.31" r="4.5" fill="#b763e6"/>
<circle cx="1447.50" cy="460.32" r="4.5" fill="#b763e6"/>
<circle cx="1457.50" cy="460.32" r="4.5" fill="#b763e6"/>
<circle cx="1467.50" cy="460.33" r="4.5" fill="#b763e6"/>
<circle cx="1477.50" cy="460.33" r="4.5" fill="#b763e6"/>
<circle cx="1487.50" cy="460.34" r="4.5" fill="#b763e6"/>
<circle cx="1497.50" cy="460.34" r="4.5" fill="#b763e6"/>
<circle cx="1507.50" cy="460.35" r="4.5" fill="#b763e6"/>
<circle cx="1517.50" cy="460.35" r="4.5" fill="#b763e6"/>
<circle cx="1527.50" cy="460.36" r="4.5" fill="#b763e6"/>
<circle cx="1537.50" cy="460.36" r="4.5" fill="#b763e6"/>
<circle cx="1547.50" cy="460.37" r="4.5" fill="#b763e6"/>
<circle cx="1557.50" cy="460.37" r="4.5" fill="#b763e6"/>
<circle cx="1567.50" cy="460.38" r="4.5" fill="#b763e6"/>
<circle cx="1577.50" cy="460.38" r="4.5" fill="#b763e6"/>
<circle cx="1587.50" cy="460.39" r="4.5" fill="#b763e6"/>
<circle cx="1597.50" cy="460.39" r="4.5" fill="#b763e6"/>
<circle cx="1607.50" cy="460.40" r="4.5" fill="#b763e6"/>
<circle cx="1617.50" cy="460.40" r="4.5" fill="#b763e6"/>
<circle cx="1627.50" cy="460.41" r="4.5" fill="#b763e6"/>
<circle cx="1637.50" cy="460.41" r="4.5" fill="#b763e6"/>
<circle cx="1647.50" cy="460.42" r="4.5" fill="#b763e6"/>
<circle cx="1657.50" cy="460.42" r="4.5" fill="#b763e6"/>
<circle cx="1087.50" cy="84.01" r="4.5" fill="#000000"/>
<circle cx="1097.50" cy="273.08" r="4.5" fill="#000000"/>
<circle cx="1107.50" cy="273.80" r="4.5" fill="#000000"/>
<circle cx="1117.50" cy="304.76" r="4.5" fill="#000000"/>
<circle cx="1127.50" cy="327.80" r="4.5" fill="#000000"/>
<circle cx="1137.50" cy="408.80" r="4.5" fill="#000000"/>
<circle cx="1147.50" cy="414.92" r="4.5" fill="#000000"/>
<circle cx="1157.50" cy="417.80" r="4.5" fill="#000000"/>
<circle cx="1167.50" cy="427.88" r="4.5" fill="#000000"/>
<circle cx="1177.50" cy="438.25" r="4.5" fill="#000000"/>
<circle cx="1187.50" cy="442.50" r="4.5" fill="#000000"/>
<circle cx="1197.50" cy="446.24" r="4.5" fill="#000000"/>
<circle cx="1207.50" cy="448.76" r="4.5" fill="#000000"/>
<circle cx="1217.50" cy="450.20" r="4.5" fill="#000000"/>
<circle cx="1227.50" cy="450.20" r="4.5" fill="#000000"/>
<circle cx="1237.50" cy="451.64" r="4.5" fill="#000000"/>
<circle cx="1247.50" cy="452.36" r="4.5" fill="#000000"/>
<circle cx="1257.50" cy="453.80" r="4.5" fill="#000000"/>
<circle cx="1267.50" cy="454.52" r="4.5" fill="#000000"/>
<circle cx="1277.50" cy="455.24" r="4.5" fill="#000000"/>
<circle cx="1287.50" cy="455.96" r="4.5" fill="#000000"/>
<circle cx="1297.50" cy="456.12" r="4.5" fill="#000000"/>
<circle cx="1307.50" cy="456.28" r="4.5" fill="#000000"/>
<circle cx="1317.50" cy="456.44" r="4.5" fill="#000000"/>
<circle cx="1327.50" cy="456.60" r="4.5" fill="#000000"/>
<circle cx="1337.50" cy="456.76" r="4.5" fill="#000000"/>
<circle cx="1347.50" cy="456.92" r="4.5" fill="#000000"/>
<circle cx="1357.50" cy="457.08" r="4.5" fill="#000000"/>
<circle cx="1367.50" cy="457.24" r="4.5" fill="#000000"/>
<circle cx="1377.50" cy="457.40" r="4.5" fill="#000000"/>
<circle cx="1387.50" cy="457.51" r="4.5" fill="#000000"/>
<circle cx="1397.50" cy="457.62" r="4.5" fill="#000000"/>
<circle cx="1407.50" cy="457.72" r="4.5" fill="#000000"/>
<circle cx="1417.50" cy="457.83" r="4.5" fill="#000000"/>
<circle cx="1427.50" cy="457.94" r="4.5" fill="#000000"/>
<circle cx="1437.50" cy="458.05" r="4.5" fill="#000000"/>
<circle cx="1447.50" cy="458.16" r="4.5" fill="#000000"/>
<circle cx="1457.50" cy="458.26" r="4.5" fill="#000000"/>
<circle cx="1467.50" cy="458.37" r="4.5" fill="#000000"/>
<circle cx="1477.50" cy="458.48" r="4.5" fill="#000000"/>
<circle cx="1487.50" cy="458.59" r="4.5" fill="#000000"/>
<circle cx="1497.50" cy="458.70" r="4.5" fill="#000000"/>
<circle cx="1507.50" cy="458.80" r="4.5" fill="#000000"/>
<circle cx="1517.50" cy="458.91" r="4.5" fill="#000000"/>
<circle cx="1527.50" cy="459.02" r="4.5" fill="#000000"/>
<circle cx="1537.50" cy="459.13" r="4.5" fill="#000000"/>
<circle cx="1547.50" cy="459.24" r="4.5" fill="#000000"/>
<circle cx="1557.50" cy="459.34" r="4.5" fill="#000000"/>
<circle cx="1567.50" cy="459.45" r="4.5" fill="#000000"/>
<circle cx="1577.50" cy="459.56" r="4.5" fill="#000000"/>
<circle cx="1087.50" cy="217.21" r="4.5" fill="#1408f5"/>
<circle cx="1097.50" cy="415.64" r="4.5" fill="#1408f5"/>
<circle cx="1107.50" cy="422.48" r="4.5" fill="#1408f5"/>
<circle cx="1117.50" cy="429.32" r="4.5" fill="#1408f5"/>
<circle cx="1127.50" cy="430.76" r="4.5" fill="#1408f5"/>
<circle cx="1137.50" cy="443.72" r="4.5" fill="#1408f5"/>
<circle cx="1147.50" cy="445.52" r="4.5" fill="#1408f5"/>
<circle cx="1157.50" cy="446.24" r="4.5" fill="#1408f5"/>
<circle cx="1167.50" cy="450.92" r="4.5" fill="#1408f5"/>
<circle cx="1177.50" cy="450.49" r="4.5" fill="#1408f5"/>
<circle cx="1187.50" cy="454.23" r="4.5" fill="#1408f5"/>
<circle cx="1197.50" cy="455.24" r="4.5" fill="#1408f5"/>
<circle cx="1207.50" cy="455.33" r="4.5" fill="#1408f5"/>
<circle cx="1217.50" cy="455.42" r="4.5" fill="#1408f5"/>
<circle cx="1227.50" cy="455.51" r="4.5" fill="#1408f5"/>
<circle cx="1237.50" cy="455.60" r="4.5" fill="#1408f5"/>
<circle cx="1247.50" cy="455.69" r="4.5" fill="#1408f5"/>
<circle cx="1257.50" cy="455.78" r="4.5" fill="#1408f5"/>
<circle cx="1267.50" cy="455.87" r="4.5" fill="#1408f5"/>
<circle cx="1277.50" cy="455.96" r="4.5" fill="#1408f5"/>
<circle cx="1287.50" cy="456.03" r="4.5" fill="#1408f5"/>
<circle cx="1297.50" cy="456.10" r="4.5" fill="#1408f5"/>
<circle cx="1307.50" cy="456.18" r="4.5" fill="#1408f5"/>
<circle cx="1317.50" cy="456.25" r="4.5" fill="#1408f5"/>
<circle cx="1327.50" cy="456.32" r="4.5" fill="#1408f5"/>
<circle cx="1337.50" cy="456.39" r="4.5" fill="#1408f5"/>
<circle cx="1347.50" cy="456.46" r="4.5" fill="#1408f5"/>
<circle cx="1357.50" cy="456.54" r="4.5" fill="#1408f5"/>
<circle cx="1367.50" cy="456.61" r="4.5" fill="#1408f5"/>
<circle cx="1377.50" cy="456.68" r="4.5" fill="#1408f5"/>
<circle cx="1387.50" cy="456.75" r="4.5" fill="#1408f5"/>
<circle cx="1397.50" cy="456.82" r="4.5" fill="#1408f5"/>
<circle cx="1407.50" cy="456.90" r="4.5" fill="#1408f5"/>
<circle cx="1417.50" cy="456.97" r="4.5" fill="#1408f5"/>
<circle cx="1427.50" cy="457.04" r="4.5" fill="#1408f5"/>
<circle cx="1437.50" cy="457.11" r="4.5" fill="#1408f5"/>
<circle cx="1447.50" cy="457.18" r="4.5" fill="#1408f5"/>
<circle cx="1457.50" cy="457.26" r="4.5" fill="#1408f5"/>
<circle cx="1467.50" cy="457.33" r="4.5" fill="#1408f5"/>
<circle cx="1477.50" cy="457.40" r="4.5" fill="#1408f5"/>
<circle cx="1487.50" cy="457.47" r="4.5" fill="#1408f5"/>
<circle cx="1497.50" cy="457.54" r="4.5" fill="#1408f5"/>
<circle cx="1507.50" cy="457.62" r="4.5" fill="#1408f5"/>
<circle cx="1517.50" cy="457.69" r="4.5" fill="#1408f5"/>
<circle cx="1527.50" cy="457.76" r="4.5" fill="#1408f5"/>
<circle cx="1087.50" cy="318.01" r="4.5" fill="#fb2a1c"/>
<circle cx="1097.50" cy="376.98" r="4.5" fill="#fb2a1c"/>
<circle cx="1107.50" cy="396.49" r="4.5" fill="#fb2a1c"/>
<circle cx="1117.50" cy="410.24" r="4.5" fill="#fb2a1c"/>
<circle cx="1127.50" cy="425.22" r="4.5" fill="#fb2a1c"/>
<circle cx="1137.50" cy="439.40" r="4.5" fill="#fb2a1c"/>
<circle cx="1147.50" cy="445.16" r="4.5" fill="#fb2a1c"/>
<circle cx="1157.50" cy="445.88" r="4.5" fill="#fb2a1c"/>
<circle cx="1167.50" cy="450.92" r="4.5" fill="#fb2a1c"/>
<circle cx="1177.50" cy="457.40" r="4.5" fill="#fb2a1c"/>
<circle cx="1187.50" cy="458.12" r="4.5" fill="#fb2a1c"/>
<circle cx="1197.50" cy="458.20" r="4.5" fill="#fb2a1c"/>
<circle cx="1207.50" cy="458.28" r="4.5" fill="#fb2a1c"/>
<circle cx="1217.50" cy="458.36" r="4.5" fill="#fb2a1c"/>
<circle cx="1227.50" cy="458.44" r="4.5" fill="#fb2a1c"/>
<circle cx="1237.50" cy="458.52" r="4.5" fill="#fb2a1c"/>
<circle cx="1247.50" cy="458.60" r="4.5" fill="#fb2a1c"/>
<circle cx="1257.50" cy="458.68" r="4.5" fill="#fb2a1c"/>
<circle cx="1267.50" cy="458.76" r="4.5" fill="#fb2a1c"/>
<circle cx="1277.50" cy="458.84" r="4.5" fill="#fb2a1c"/>
<circle cx="1287.50" cy="458.88" r="4.5" fill="#fb2a1c"/>
<circle cx="1297.50" cy="458.93" r="4.5" fill="#fb2a1c"/>
<circle cx="1307.50" cy="458.97" r="4.5" fill="#fb2a1c"/>
<circle cx="1317.50" cy="459.01" r="4.5" fill="#fb2a1c"/>
<circle cx="1327.50" cy="459.06" r="4.5" fill="#fb2a1c"/>
<circle cx="1337.50" cy="459.10" r="4.5" fill="#fb2a1c"/>
<circle cx="1347.50" cy="459.14" r="4.5" fill="#fb2a1c"/>
<circle cx="1357.50" cy="459.19" r="4.5" fill="#fb2a1c"/>
<circle cx="1367.50" cy="459.23" r="4.5" fill="#fb2a1c"/>
<circle cx="1377.50" cy="459.27" r="4.5" fill="#fb2a1c"/>
<circle cx="1387.50" cy="459.32" r="4.5" fill="#fb2a1c"/>
<circle cx="1397.50" cy="459.36" r="4.5" fill="#fb2a1c"/>
<circle cx="1407.50" cy="459.40" r="4.5" fill="#fb2a1c"/>
<circle cx="1417.50" cy="459.44" r="4.5" fill="#fb2a1c"/>
<circle cx="1427.50" cy="459.49" r="4.5" fill="#fb2a1c"/>
<circle cx="1437.50" cy="459.53" r="4.5" fill="#fb2a1c"/>
<circle cx="1447.50" cy="459.57" r="4.5" fill="#fb2a1c"/>
<circle cx="1457.50" cy="459.62" r="4.5" fill="#fb2a1c"/>
<circle cx="1467.50" cy="459.66" r="4.5" fill="#fb2a1c"/>
<circle cx="1477.50" cy="459.70" r="4.5" fill="#fb2a1c"/>
<circle cx="1487.50" cy="459.74" r="4.5" fill="#fb2a1c"/>
<circle cx="1497.50" cy="459.77" r="4.5" fill="#fb2a1c"/>
<circle cx="1507.50" cy="459.80" r="4.5" fill="#fb2a1c"/>
<circle cx="1517.50" cy="459.83" r="4.5" fill="#fb2a1c"/>
<circle cx="1527.50" cy="459.86" r="4.5" fill="#fb2a1c"/>
<circle cx="1537.50" cy="459.90" r="4.5" fill="#fb2a1c"/>
<circle cx="1547.50" cy="459.93" r="4.5" fill="#fb2a1c"/>
<circle cx="1557.50" cy="459.96" r="4.5" fill="#fb2a1c"/>
<circle cx="1567.50" cy="459.99" r="4.5" fill="#fb2a1c"/>
<circle cx="1577.50" cy="460.02" r="4.5" fill="#fb2a1c"/>
<circle cx="1587.50" cy="460.06" r="4.5" fill="#fb2a1c"/>
<circle cx="1597.50" cy="460.09" r="4.5" fill="#fb2a1c"/>
<circle cx="1607.50" cy="460.12" r="4.5" fill="#fb2a1c"/>
<circle cx="1617.50" cy="460.15" r="4.5" fill="#fb2a1c"/>
<circle cx="1627.50" cy="460.18" r="4.5" fill="#fb2a1c"/>
<circle cx="1637.50" cy="460.22" r="4.5" fill="#fb2a1c"/>
<circle cx="1647.50" cy="460.25" r="4.5" fill="#fb2a1c"/>
<circle cx="1657.50" cy="460.28" r="4.5" fill="#fb2a1c"/>
<text font-size="23.6" transform="translate(1023.04 38.50) scale(0.975 1)">600</text>
<text font-size="23.6" transform="translate(1023.04 182.00) scale(0.975 1)">400</text>
<text font-size="23.6" transform="translate(1023.04 326.00) scale(0.975 1)">200</text>
<text font-size="23.6" transform="translate(1048.64 470.00) scale(0.975 1)">0</text>
<text x="-96.42" y="0.00" font-size="24.2" transform="translate(1009.20 241.80) rotate(-90) scale(1.033 1)">Number of reads</text>
<text font-size="24.2" transform="translate(1207.19 517.00) scale(1.033 1)">Individual recombination events</text>
<line x1="1170.75" y1="187.00" x2="1231.50" y2="161.30" stroke="#000" stroke-width="1.6" />
<polygon points="1240.50,157.50 1224.50,157.15 1230.40,168.75" fill="#000" />
<text font-size="24.2" transform="translate(1253.00 157.50) scale(1.033 1)">Top 20% recombination</text>
<circle cx="1584.40" cy="92.90" r="4.6" fill="#fb2a1c"/>
<text font-size="24.2" transform="translate(1609.69 101.25) scale(1.033 1)">R-6</text>
<circle cx="1584.40" cy="137.50" r="4.6" fill="#1408f5"/>
<text font-size="24.2" transform="translate(1609.69 144.60) scale(1.033 1)">R-11</text>
<circle cx="1584.40" cy="180.00" r="4.6" fill="#000000"/>
<text font-size="24.2" transform="translate(1609.69 187.10) scale(1.033 1)">R-2</text>
<circle cx="1584.40" cy="224.10" r="4.6" fill="#b763e6"/>
<text font-size="24.2" transform="translate(1609.69 231.25) scale(1.033 1)">R-22</text>
<text class="p" font-size="32.8" transform="translate(47.99 629.70) scale(0.98 1)">b</text>
<text x="543.67" y="618.00" font-size="29.3">Recombination</text>
<g shape-rendering="crispEdges">
<rect x="147.25" y="690.20" width="354.71" height="26.18" fill="#9a9aff" />
<rect x="501.96" y="690.20" width="16.89" height="26.18" fill="#bebeff" />
<rect x="518.85" y="690.20" width="16.89" height="26.18" fill="#dedeff" />
<rect x="620.20" y="690.20" width="16.89" height="26.18" fill="#bebeff" />
<rect x="653.98" y="690.20" width="16.89" height="26.18" fill="#bebeff" />
<rect x="670.87" y="690.20" width="16.89" height="26.18" fill="#dedeff" />
<rect x="839.78" y="690.20" width="16.89" height="26.18" fill="#bebeff" />
<rect x="856.67" y="690.20" width="270.26" height="26.18" fill="#9a9aff" />
<rect x="147.25" y="716.38" width="354.71" height="26.18" fill="#9a9aff" />
<rect x="501.96" y="716.38" width="16.89" height="26.18" fill="#bebeff" />
<rect x="518.85" y="716.38" width="16.89" height="26.18" fill="#dedeff" />
<rect x="653.98" y="716.38" width="16.89" height="26.18" fill="#bebeff" />
<rect x="839.78" y="716.38" width="16.89" height="26.18" fill="#bebeff" />
<rect x="856.67" y="716.38" width="270.26" height="26.18" fill="#9a9aff" />
<rect x="147.25" y="742.56" width="354.71" height="26.18" fill="#9a9aff" />
<rect x="501.96" y="742.56" width="16.89" height="26.18" fill="#bebeff" />
<rect x="620.20" y="742.56" width="16.89" height="26.18" fill="#bebeff" />
<rect x="653.98" y="742.56" width="16.89" height="26.18" fill="#bebeff" />
<rect x="670.87" y="742.56" width="16.89" height="26.18" fill="#dedeff" />
<rect x="856.67" y="742.56" width="270.26" height="26.18" fill="#9a9aff" />
<rect x="147.25" y="768.74" width="354.71" height="26.18" fill="#9a9aff" />
<rect x="620.20" y="768.74" width="16.89" height="26.18" fill="#bebeff" />
<rect x="653.98" y="768.74" width="16.89" height="26.18" fill="#bebeff" />
<rect x="839.78" y="768.74" width="16.89" height="26.18" fill="#bebeff" />
<rect x="856.67" y="768.74" width="270.26" height="26.18" fill="#9a9aff" />
<rect x="147.25" y="794.92" width="354.71" height="26.18" fill="#9a9aff" />
<rect x="501.96" y="794.92" width="16.89" height="26.18" fill="#bebeff" />
<rect x="518.85" y="794.92" width="16.89" height="26.18" fill="#dedeff" />
<rect x="620.20" y="794.92" width="16.89" height="26.18" fill="#bebeff" />
<rect x="670.87" y="794.92" width="16.89" height="26.18" fill="#dedeff" />
<rect x="839.78" y="794.92" width="16.89" height="26.18" fill="#bebeff" />
<rect x="856.67" y="794.92" width="270.26" height="26.18" fill="#9a9aff" />
</g>
<g transform="scale(0.887 1)">
<text class="n" x="169.3 187.1 206.8 226.5 244.9 264.6 282.2 301.4 321.1 339.3 358.3 377.5 397.2 415.5 434.7 455.0 473.4 491.8 511.5 529.9 550.2 569.2 588.3 606.1 626.4 644.0 664.5 682.1 701.1 721.6 740.0 759.7 778.7 796.5 815.4 834.4 853.6 872.5 891.5 911.4 929.6 948.7 967.7 987.6 1006.0 1025.0 1044.7 1063.7 1082.0 1101.2 1121.5 1139.1 1158.9 1177.3 1196.4 1215.3 1235.7 1253.5" y="712.10" font-size="20.3">TCATATGCAGGCAGCTACACTTTCTGTGGTATTCGGCGGAGGGACCAAGCTGACCGTC</text>
<text class="n" x="169.3 187.1 206.8 226.5 244.9 264.6 282.2 301.4 321.1 339.3 358.3 377.5 397.2 415.5 434.7 455.0 473.4 491.8 511.5 529.9 550.2 569.2 588.3 610.2 629.2 648.3 667.3 686.4 705.4 724.4 740.0 762.5 781.6 800.6 819.7 838.7 857.7 876.8 895.8 914.9 933.9 948.7 967.7 987.6 1006.0 1025.0 1044.7 1063.7 1082.0 1101.2 1121.5 1139.1 1158.9 1177.3 1196.4 1215.3 1235.7 1253.5" y="738.28" font-size="20.3">TCATATGCAGGCAGCTACACTTT-------A----------GGACCAAGCTGACCGTC</text>
<text class="n" x="169.3 187.1 206.8 226.5 244.9 264.6 282.2 301.4 321.1 339.3 358.3 377.5 397.2 415.5 434.7 455.0 473.4 491.8 511.5 529.9 550.2 569.2 591.1 610.2 629.2 648.3 667.3 686.4 701.1 724.4 740.0 759.7 781.6 800.6 819.7 838.7 857.7 876.8 895.8 914.9 933.9 953.0 967.7 987.6 1006.0 1025.0 1044.7 1063.7 1082.0 1101.2 1121.5 1139.1 1158.9 1177.3 1196.4 1215.3 1235.7 1253.5" y="764.46" font-size="20.3">TCATATGCAGGCAGCTACACTT------G-AT----------GACCAAGCTGACCGTC</text>
<text class="n" x="169.3 187.1 206.8 226.5 244.9 264.6 282.2 301.4 321.1 339.3 358.3 377.5 397.2 415.5 434.7 455.0 473.4 491.8 511.5 529.9 550.2 572.1 591.1 606.1 629.2 648.3 667.3 686.4 701.1 724.4 740.0 762.5 781.6 800.6 819.7 838.7 857.7 876.8 895.8 914.9 933.9 948.7 967.7 987.6 1006.0 1025.0 1044.7 1063.7 1082.0 1101.2 1121.5 1139.1 1158.9 1177.3 1196.4 1215.3 1235.7 1253.5" y="790.64" font-size="20.3">TCATATGCAGGCAGCTACACT--C----G-A----------GGACCAAGCTGACCGTC</text>
<text class="n" x="169.3 187.1 206.8 226.5 244.9 264.6 282.2 301.4 321.1 339.3 358.3 377.5 397.2 415.5 434.7 455.0 473.4 491.8 511.5 529.9 550.2 569.2 588.3 610.2 629.2 644.0 667.3 682.1 701.1 721.6 739.2 759.7 778.7 796.5 815.4 834.4 853.6 872.5 891.5 911.4 929.6 948.7 967.7 987.6 1006.0 1025.0 1044.7 1063.7 1082.0 1101.2 1121.5 1139.1 1158.9 1177.3 1196.4 1215.3 1235.7 1253.5" y="816.82" font-size="20.3">TCATATGCAGGCAGCTACACTTT--G-GGTGTTCGGCGGAGGGACCAAGCTGACCGTC</text>
</g>
<g shape-rendering="crispEdges">
<rect x="147.25" y="848.20" width="287.15" height="26.18" fill="#9a9aff" />
<rect x="451.29" y="848.20" width="16.89" height="26.18" fill="#bebeff" />
<rect x="485.07" y="848.20" width="16.89" height="26.18" fill="#9a9aff" />
<rect x="518.85" y="848.20" width="16.89" height="26.18" fill="#9a9aff" />
<rect x="552.63" y="848.20" width="50.67" height="26.18" fill="#9a9aff" />
<rect x="603.31" y="848.20" width="16.89" height="26.18" fill="#bebeff" />
<rect x="620.20" y="848.20" width="506.73" height="26.18" fill="#9a9aff" />
<rect x="147.25" y="874.38" width="287.15" height="26.18" fill="#9a9aff" />
<rect x="434.40" y="874.38" width="50.67" height="26.18" fill="#bebeff" />
<rect x="485.07" y="874.38" width="16.89" height="26.18" fill="#9a9aff" />
<rect x="518.85" y="874.38" width="16.89" height="26.18" fill="#9a9aff" />
<rect x="552.63" y="874.38" width="50.67" height="26.18" fill="#9a9aff" />
<rect x="603.31" y="874.38" width="16.89" height="26.18" fill="#bebeff" />
<rect x="620.20" y="874.38" width="506.73" height="26.18" fill="#9a9aff" />
<rect x="147.25" y="900.56" width="287.15" height="26.18" fill="#9a9aff" />
<rect x="434.40" y="900.56" width="16.89" height="26.18" fill="#bebeff" />
<rect x="468.18" y="900.56" width="16.89" height="26.18" fill="#bebeff" />
<rect x="485.07" y="900.56" width="16.89" height="26.18" fill="#9a9aff" />
<rect x="518.85" y="900.56" width="16.89" height="26.18" fill="#9a9aff" />
<rect x="552.63" y="900.56" width="50.67" height="26.18" fill="#9a9aff" />
<rect x="603.31" y="900.56" width="16.89" height="26.18" fill="#bebeff" />
<rect x="620.20" y="900.56" width="506.73" height="26.18" fill="#9a9aff" />
<rect x="147.25" y="926.74" width="287.15" height="26.18" fill="#9a9aff" />
<rect x="434.40" y="926.74" width="50.67" height="26.18" fill="#bebeff" />
<rect x="485.07" y="926.74" width="16.89" height="26.18" fill="#9a9aff" />
<rect x="518.85" y="926.74" width="16.89" height="26.18" fill="#9a9aff" />
<rect x="552.63" y="926.74" width="50.67" height="26.18" fill="#9a9aff" />
<rect x="620.20" y="926.74" width="506.73" height="26.18" fill="#9a9aff" />
</g>
<g transform="scale(0.887 1)">
<text class="n" x="168.7 188.4 206.0 225.8 245.5 264.6 283.6 301.2 320.3 339.5 359.1 377.5 397.2 415.5 434.7 454.4 472.6 491.8 510.7 529.9 550.2 569.2 587.0 607.3 626.4 644.0 664.5 682.1 701.1 721.6 740.0 759.7 778.7 796.5 815.4 834.4 853.6 872.5 891.5 911.4 929.6 948.7 967.7 987.6 1006.0 1025.0 1044.7 1063.7 1082.0 1101.2 1121.5 1139.1 1158.9 1177.3 1196.4 1215.3 1235.7 1253.5" y="870.10" font-size="20.3">ATGATTTGGCACAGCAGCGCTTCTTGTGGTATTCGGCGGAGGGACCAAGCTGACCGTC</text>
<text class="n" x="168.7 188.4 206.0 225.8 245.5 264.6 283.6 301.2 320.3 339.5 359.1 377.5 397.2 415.5 434.7 454.4 472.6 493.1 510.7 530.5 550.2 572.1 587.0 610.2 626.4 644.0 664.5 682.1 701.1 721.6 740.0 759.7 778.7 796.5 815.4 834.4 853.6 872.5 891.5 911.4 929.6 948.7 967.7 987.6 1006.0 1025.0 1044.7 1063.7 1082.0 1101.2 1121.5 1139.1 1158.9 1177.3 1196.4 1215.3 1235.7 1253.5" y="896.28" font-size="20.3">ATGATTTGGCACAGCAGTGAT-C-TGTGGTATTCGGCGGAGGGACCAAGCTGACCGTC</text>
<text class="n" x="168.7 188.4 206.0 225.8 245.5 264.6 283.6 301.2 320.3 339.5 359.1 377.5 397.2 415.5 434.7 454.4 472.6 493.1 512.1 530.5 550.2 572.1 587.0 610.2 626.4 644.0 664.5 682.1 701.1 721.6 740.0 759.7 778.7 796.5 815.4 834.4 853.6 872.5 891.5 911.4 929.6 948.7 967.7 987.6 1006.0 1025.0 1044.7 1063.7 1082.0 1101.2 1121.5 1139.1 1158.9 1177.3 1196.4 1215.3 1235.7 1253.5" y="922.46" font-size="20.3">ATGATTTGGCACAGCAGTTAT-C-TGTGGTATTCGGCGGAGGGACCAAGCTGACCGTC</text>
<text class="n" x="168.7 188.4 206.0 225.8 245.5 264.6 283.6 301.2 320.3 339.5 359.1 377.5 397.2 415.5 434.7 454.4 472.6 493.1 510.7 530.5 550.2 572.1 587.0 610.2 626.4 644.0 664.5 683.5 701.1 721.6 740.0 759.7 778.7 796.5 815.4 834.4 853.6 872.5 891.5 911.4 929.6 948.7 967.7 987.6 1006.0 1025.0 1044.7 1063.7 1082.0 1101.2 1121.5 1139.1 1158.9 1177.3 1196.4 1215.3 1235.7 1253.5" y="948.64" font-size="20.3">ATGATTTGGCACAGCAGTGAT-C-TGTTGTATTCGGCGGAGGGACCAAGCTGACCGTC</text>
</g>
<g shape-rendering="crispEdges">
<rect x="147.25" y="984.30" width="253.36" height="26.18" fill="#9a9aff" />
<rect x="400.62" y="984.30" width="16.89" height="26.18" fill="#bebeff" />
<rect x="417.51" y="984.30" width="16.89" height="26.18" fill="#9a9aff" />
<rect x="434.40" y="984.30" width="50.67" height="26.18" fill="#bebeff" />
<rect x="518.85" y="984.30" width="16.89" height="26.18" fill="#dedeff" />
<rect x="603.31" y="984.30" width="50.67" height="26.18" fill="#9a9aff" />
<rect x="653.98" y="984.30" width="16.89" height="26.18" fill="#bebeff" />
<rect x="670.87" y="984.30" width="16.89" height="26.18" fill="#9a9aff" />
<rect x="687.76" y="984.30" width="67.56" height="26.18" fill="#bebeff" />
<rect x="755.33" y="984.30" width="371.60" height="26.18" fill="#9a9aff" />
<rect x="147.25" y="1010.48" width="253.36" height="26.18" fill="#9a9aff" />
<rect x="400.62" y="1010.48" width="16.89" height="26.18" fill="#bebeff" />
<rect x="417.51" y="1010.48" width="16.89" height="26.18" fill="#9a9aff" />
<rect x="434.40" y="1010.48" width="50.67" height="26.18" fill="#bebeff" />
<rect x="535.74" y="1010.48" width="16.89" height="26.18" fill="#dedeff" />
<rect x="603.31" y="1010.48" width="50.67" height="26.18" fill="#9a9aff" />
<rect x="653.98" y="1010.48" width="16.89" height="26.18" fill="#bebeff" />
<rect x="670.87" y="1010.48" width="16.89" height="26.18" fill="#9a9aff" />
<rect x="687.76" y="1010.48" width="67.56" height="26.18" fill="#bebeff" />
<rect x="755.33" y="1010.48" width="371.60" height="26.18" fill="#9a9aff" />
<rect x="147.25" y="1036.66" width="253.36" height="26.18" fill="#9a9aff" />
<rect x="417.51" y="1036.66" width="16.89" height="26.18" fill="#9a9aff" />
<rect x="535.74" y="1036.66" width="16.89" height="26.18" fill="#dedeff" />
<rect x="603.31" y="1036.66" width="50.67" height="26.18" fill="#9a9aff" />
<rect x="653.98" y="1036.66" width="16.89" height="26.18" fill="#bebeff" />
<rect x="670.87" y="1036.66" width="16.89" height="26.18" fill="#9a9aff" />
<rect x="687.76" y="1036.66" width="67.56" height="26.18" fill="#bebeff" />
<rect x="755.33" y="1036.66" width="371.60" height="26.18" fill="#9a9aff" />
<rect x="147.25" y="1062.84" width="253.36" height="26.18" fill="#9a9aff" />
<rect x="400.62" y="1062.84" width="16.89" height="26.18" fill="#bebeff" />
<rect x="417.51" y="1062.84" width="16.89" height="26.18" fill="#9a9aff" />
<rect x="434.40" y="1062.84" width="50.67" height="26.18" fill="#bebeff" />
<rect x="518.85" y="1062.84" width="33.78" height="26.18" fill="#dedeff" />
<rect x="603.31" y="1062.84" width="50.67" height="26.18" fill="#9a9aff" />
<rect x="653.98" y="1062.84" width="16.89" height="26.18" fill="#bebeff" />
<rect x="670.87" y="1062.84" width="16.89" height="26.18" fill="#9a9aff" />
<rect x="687.76" y="1062.84" width="67.56" height="26.18" fill="#bebeff" />
<rect x="755.33" y="1062.84" width="371.60" height="26.18" fill="#9a9aff" />
<rect x="147.25" y="1089.02" width="253.36" height="26.18" fill="#9a9aff" />
<rect x="400.62" y="1089.02" width="16.89" height="26.18" fill="#bebeff" />
<rect x="417.51" y="1089.02" width="16.89" height="26.18" fill="#9a9aff" />
<rect x="434.40" y="1089.02" width="50.67" height="26.18" fill="#bebeff" />
<rect x="518.85" y="1089.02" width="16.89" height="26.18" fill="#dedeff" />
<rect x="603.31" y="1089.02" width="50.67" height="26.18" fill="#9a9aff" />
<rect x="670.87" y="1089.02" width="16.89" height="26.18" fill="#9a9aff" />
<rect x="755.33" y="1089.02" width="371.60" height="26.18" fill="#9a9aff" />
<rect x="147.25" y="1115.20" width="253.36" height="26.18" fill="#9a9aff" />
<rect x="400.62" y="1115.20" width="16.89" height="26.18" fill="#bebeff" />
<rect x="417.51" y="1115.20" width="16.89" height="26.18" fill="#9a9aff" />
<rect x="603.31" y="1115.20" width="50.67" height="26.18" fill="#9a9aff" />
<rect x="653.98" y="1115.20" width="16.89" height="26.18" fill="#bebeff" />
<rect x="670.87" y="1115.20" width="16.89" height="26.18" fill="#9a9aff" />
<rect x="687.76" y="1115.20" width="67.56" height="26.18" fill="#bebeff" />
<rect x="755.33" y="1115.20" width="371.60" height="26.18" fill="#9a9aff" />
</g>
<g transform="scale(0.887 1)">
<text class="n" x="168.7 187.0 206.0 225.2 244.1 264.6 282.2 301.2 320.3 340.1 358.5 378.2 396.4 415.6 435.3 453.6 472.8 492.4 510.8 531.2 553.1 567.8 587.0 606.7 626.4 644.0 664.5 682.1 701.1 721.6 740.0 759.7 778.7 796.5 815.4 834.4 853.6 872.5 891.5 911.4 929.6 948.7 967.7 987.6 1006.0 1025.0 1044.7 1063.7 1082.0 1101.2 1121.5 1139.1 1158.9 1177.3 1196.4 1215.3 1235.7 1253.5" y="1006.20" font-size="20.3">AGGCGTGGGACAGCAGCACT-GCATGTGGTATTCGGCGGAGGGACCAAGCTGACCGTC</text>
<text class="n" x="168.7 187.0 206.0 225.2 244.1 264.6 282.2 301.2 320.3 340.1 358.5 378.2 396.4 415.6 435.3 453.6 472.8 492.4 510.8 531.2 549.6 567.8 586.9 605.9 625.7 644.8 663.0 682.1 701.1 721.6 740.0 759.7 778.7 796.5 815.4 834.4 853.6 872.5 891.5 911.4 929.6 948.7 967.7 987.6 1006.0 1025.0 1044.7 1063.7 1082.0 1101.2 1121.5 1139.1 1158.9 1177.3 1196.4 1215.3 1235.7 1253.5" y="1032.38" font-size="20.3">AGGCGTGGGACAGCAGCACTAGGGAAGGGTATTCGGCGGAGGGACCAAGCTGACCGTC</text>
<text class="n" x="168.7 187.0 206.0 225.2 244.1 264.6 282.2 301.2 320.3 340.1 358.5 378.2 396.4 415.6 435.3 453.7 472.8 491.6 511.5 529.7 553.1 572.1 591.1 605.9 625.7 648.3 667.3 682.1 701.1 721.6 740.0 759.7 778.7 796.5 815.4 834.4 853.6 872.5 891.5 911.4 929.6 948.7 967.7 987.6 1006.0 1025.0 1044.7 1063.7 1082.0 1101.2 1121.5 1139.1 1158.9 1177.3 1196.4 1215.3 1235.7 1253.5" y="1058.56" font-size="20.3">AGGCGTGGGACAGCACCGAG---GA--GGTATTCGGCGGAGGGACCAAGCTGACCGTC</text>
<text class="n" x="168.7 187.0 206.0 225.2 244.1 264.6 282.2 301.2 320.3 340.1 358.5 378.2 396.4 415.6 435.3 453.6 472.8 492.4 510.8 531.2 553.1 568.0 587.0 605.9 629.2 648.3 663.2 682.1 701.1 721.6 740.0 759.7 778.7 796.5 815.4 834.4 853.6 872.5 891.5 911.4 929.6 948.7 967.7 987.6 1006.0 1025.0 1044.7 1063.7 1082.0 1101.2 1121.5 1139.1 1158.9 1177.3 1196.4 1215.3 1235.7 1253.5" y="1084.74" font-size="20.3">AGGCGTGGGACAGCAGCACT-CCG--CGGTATTCGGCGGAGGGACCAAGCTGACCGTC</text>
<text class="n" x="168.7 187.0 206.0 225.2 244.1 264.6 282.2 301.2 320.3 340.1 358.5 378.2 396.4 415.6 435.3 453.6 472.8 492.4 510.8 531.2 548.8 568.0 587.0 606.1 626.4 648.3 663.0 682.1 701.1 721.6 739.2 759.7 781.6 800.6 819.7 838.7 853.6 872.5 891.5 911.4 929.6 948.7 967.7 987.6 1006.0 1025.0 1044.7 1063.7 1082.0 1101.2 1121.5 1139.1 1158.9 1177.3 1196.4 1215.3 1235.7 1253.5" y="1110.92" font-size="20.3">AGGCGTGGGACAGCAGCACTGCCCT-GGGTGT----CGGAGGGACCAAGCTGACCGTC</text>
<text class="n" x="168.7 187.0 206.0 225.2 244.1 264.6 282.2 301.2 320.3 340.1 358.5 378.2 396.4 415.6 435.3 453.6 472.8 495.9 515.0 534.0 553.1 572.1 591.1 610.2 629.2 648.3 663.2 682.1 701.1 721.6 740.0 759.7 778.7 796.5 815.4 834.4 853.6 872.5 891.5 911.4 929.6 948.7 967.7 987.6 1006.0 1025.0 1044.7 1063.7 1082.0 1101.2 1121.5 1139.1 1158.9 1177.3 1196.4 1215.3 1235.7 1253.5" y="1137.10" font-size="20.3">AGGCGTGGGACAGCAGC---------CGGTATTCGGCGGAGGGACCAAGCTGACCGTC</text>
</g>
<line x1="144.90" y1="646.30" x2="553.40" y2="646.30" stroke="#000" stroke-width="2.0" stroke-dasharray="8.150 8.190" stroke-dashoffset="4.075"/>
<line x1="144.90" y1="1154.50" x2="553.40" y2="1154.50" stroke="#000" stroke-width="2.0" stroke-dasharray="8.150 8.190" stroke-dashoffset="4.075"/>
<line x1="553.40" y1="646.30" x2="1129.00" y2="646.30" stroke="#000" stroke-width="2.0" stroke-dasharray="8.150 8.296" stroke-dashoffset="4.075"/>
<line x1="553.40" y1="1154.50" x2="1129.00" y2="1154.50" stroke="#000" stroke-width="2.0" stroke-dasharray="8.150 8.296" stroke-dashoffset="4.075"/>
<line x1="144.90" y1="646.30" x2="144.90" y2="1154.50" stroke="#000" stroke-width="2.0" stroke-dasharray="8.150 8.244" stroke-dashoffset="4.075"/>
<line x1="553.40" y1="646.30" x2="553.40" y2="1154.50" stroke="#000" stroke-width="2.0" stroke-dasharray="8.150 8.244" stroke-dashoffset="4.075"/>
<line x1="1129.00" y1="646.30" x2="1129.00" y2="1154.50" stroke="#000" stroke-width="2.0" stroke-dasharray="8.150 8.244" stroke-dashoffset="4.075"/>
<rect x="143.90" y="645.30" width="2.00" height="2.00" fill="#000" />
<rect x="143.90" y="1153.50" width="2.00" height="2.00" fill="#000" />
<rect x="552.40" y="645.30" width="2.00" height="2.00" fill="#000" />
<rect x="552.40" y="1153.50" width="2.00" height="2.00" fill="#000" />
<rect x="1128.00" y="645.30" width="2.00" height="2.00" fill="#000" />
<rect x="1128.00" y="1153.50" width="2.00" height="2.00" fill="#000" />
<text font-size="24.2" transform="translate(227.04 680.00) scale(1.033 1)">LV gene segment</text>
<text font-size="24.2" transform="translate(722.94 680.00) scale(1.033 1)">LJ2 coding exon</text>
<text font-size="24.2" transform="translate(2.34 742.50) scale(1.033 1)">LV2-11-LJ2</text>
<text font-size="24.2" transform="translate(39.58 783.75) scale(1.033 1)">(R-8)</text>
<text font-size="24.2" transform="translate(2.24 892.70) scale(1.033 1)">LV5-45-LJ2</text>
<text font-size="24.2" transform="translate(31.73 930.40) scale(1.033 1)">(R-13)</text>
<text font-size="24.2" transform="translate(10.04 1055.40) scale(1.033 1)">LV3-1-LJ2</text>
<text font-size="24.2" transform="translate(43.83 1093.10) scale(1.033 1)">(R-9)</text>
<text font-size="20.3" transform="translate(1135.90 710.40) scale(1.025 1)">Reference</text>
<text font-size="20.3" transform="translate(1136.55 736.80) scale(1.025 1)">Clone 1 (99.42%)</text>
<text font-size="20.3" transform="translate(1136.55 763.20) scale(1.025 1)">Clone 2 (0.15%)</text>
<text font-size="20.3" transform="translate(1136.55 789.60) scale(1.025 1)">Clone 3 (0.07%)</text>
<text font-size="20.3" transform="translate(1136.55 816.00) scale(1.025 1)">Clone 4 (0.05%)</text>
<text font-size="20.3" transform="translate(1135.90 868.80) scale(1.025 1)">Reference</text>
<text font-size="20.3" transform="translate(1136.55 895.20) scale(1.025 1)">Clone 1 (99.64%)</text>
<text font-size="20.3" transform="translate(1136.55 921.60) scale(1.025 1)">Clone 2 (0.07%)</text>
<text font-size="20.3" transform="translate(1136.55 948.00) scale(1.025 1)">Clone 3 (0.06%)</text>
<text font-size="20.3" transform="translate(1135.90 1006.10) scale(1.025 1)">Reference</text>
<text font-size="20.3" transform="translate(1136.55 1032.60) scale(1.025 1)">Clone 1 (54.2%)</text>
<text font-size="20.3" transform="translate(1136.55 1058.70) scale(1.025 1)">Clone 2 (12.7%)</text>
<text font-size="20.3" transform="translate(1136.55 1085.10) scale(1.025 1)">Clone 3 (12.5%)</text>
<text font-size="20.3" transform="translate(1136.55 1111.40) scale(1.025 1)">Clone 4 (0.74%)</text>
<text font-size="20.3" transform="translate(1136.55 1134.60) scale(1.025 1)">Clone 5 (0.05%)</text>
<text class="p" font-size="32.8" transform="translate(1347.00 629.90) scale(0.98 1)">c</text>
<rect x="1539.10" y="966.60" width="35.00" height="93.40" fill="#a5190f" stroke="#000" stroke-width="2.2" />
<rect x="1579.90" y="756.50" width="37.20" height="34.50" fill="#6aa8ff" />
<line x1="1581.00" y1="756.50" x2="1581.00" y2="791.00" stroke="#000" stroke-width="2.2" />
<line x1="1616.00" y1="756.50" x2="1616.00" y2="791.00" stroke="#000" stroke-width="2.2" />
<rect x="1579.90" y="821.25" width="37.20" height="86.25" fill="#6aa8ff" />
<line x1="1581.00" y1="821.25" x2="1581.00" y2="907.50" stroke="#000" stroke-width="2.2" />
<line x1="1616.00" y1="821.25" x2="1616.00" y2="907.50" stroke="#000" stroke-width="2.2" />
<rect x="1579.90" y="939.00" width="37.20" height="121.00" fill="#6aa8ff" />
<line x1="1581.00" y1="939.00" x2="1581.00" y2="1060.00" stroke="#000" stroke-width="2.2" />
<line x1="1616.00" y1="939.00" x2="1616.00" y2="1060.00" stroke="#000" stroke-width="2.2" />
<line x1="1579.90" y1="757.60" x2="1617.10" y2="757.60" stroke="#000" stroke-width="2.2" />
<rect x="1621.60" y="705.75" width="37.20" height="85.25" fill="#a2a2a8" />
<line x1="1622.70" y1="705.75" x2="1622.70" y2="791.00" stroke="#000" stroke-width="2.2" />
<line x1="1657.70" y1="705.75" x2="1657.70" y2="791.00" stroke="#000" stroke-width="2.2" />
<rect x="1621.60" y="821.25" width="37.20" height="86.25" fill="#a2a2a8" />
<line x1="1622.70" y1="821.25" x2="1622.70" y2="907.50" stroke="#000" stroke-width="2.2" />
<line x1="1657.70" y1="821.25" x2="1657.70" y2="907.50" stroke="#000" stroke-width="2.2" />
<rect x="1621.60" y="939.00" width="37.20" height="121.00" fill="#a2a2a8" />
<line x1="1622.70" y1="939.00" x2="1622.70" y2="1060.00" stroke="#000" stroke-width="2.2" />
<line x1="1657.70" y1="939.00" x2="1657.70" y2="1060.00" stroke="#000" stroke-width="2.2" />
<line x1="1621.60" y1="706.85" x2="1658.80" y2="706.85" stroke="#000" stroke-width="2.2" />
<rect x="1701.90" y="1053.10" width="35.00" height="6.90" fill="#a5190f" stroke="#000" stroke-width="2.2" />
<rect x="1742.70" y="778.75" width="37.20" height="12.25" fill="#6aa8ff" />
<line x1="1743.80" y1="778.75" x2="1743.80" y2="791.00" stroke="#000" stroke-width="2.2" />
<line x1="1778.80" y1="778.75" x2="1778.80" y2="791.00" stroke="#000" stroke-width="2.2" />
<rect x="1742.70" y="821.25" width="37.20" height="86.25" fill="#6aa8ff" />
<line x1="1743.80" y1="821.25" x2="1743.80" y2="907.50" stroke="#000" stroke-width="2.2" />
<line x1="1778.80" y1="821.25" x2="1778.80" y2="907.50" stroke="#000" stroke-width="2.2" />
<rect x="1742.70" y="939.00" width="37.20" height="121.00" fill="#6aa8ff" />
<line x1="1743.80" y1="939.00" x2="1743.80" y2="1060.00" stroke="#000" stroke-width="2.2" />
<line x1="1778.80" y1="939.00" x2="1778.80" y2="1060.00" stroke="#000" stroke-width="2.2" />
<line x1="1742.70" y1="779.85" x2="1779.90" y2="779.85" stroke="#000" stroke-width="2.2" />
<rect x="1784.40" y="762.00" width="37.20" height="29.00" fill="#a2a2a8" />
<line x1="1785.50" y1="762.00" x2="1785.50" y2="791.00" stroke="#000" stroke-width="2.2" />
<line x1="1820.50" y1="762.00" x2="1820.50" y2="791.00" stroke="#000" stroke-width="2.2" />
<rect x="1784.40" y="821.25" width="37.20" height="86.25" fill="#a2a2a8" />
<line x1="1785.50" y1="821.25" x2="1785.50" y2="907.50" stroke="#000" stroke-width="2.2" />
<line x1="1820.50" y1="821.25" x2="1820.50" y2="907.50" stroke="#000" stroke-width="2.2" />
<rect x="1784.40" y="939.00" width="37.20" height="121.00" fill="#a2a2a8" />
<line x1="1785.50" y1="939.00" x2="1785.50" y2="1060.00" stroke="#000" stroke-width="2.2" />
<line x1="1820.50" y1="939.00" x2="1820.50" y2="1060.00" stroke="#000" stroke-width="2.2" />
<line x1="1784.40" y1="763.10" x2="1821.60" y2="763.10" stroke="#000" stroke-width="2.2" />
<rect x="1864.70" y="1016.60" width="35.00" height="43.40" fill="#a5190f" stroke="#000" stroke-width="2.2" />
<rect x="1905.50" y="771.25" width="37.20" height="19.75" fill="#6aa8ff" />
<line x1="1906.60" y1="771.25" x2="1906.60" y2="791.00" stroke="#000" stroke-width="2.2" />
<line x1="1941.60" y1="771.25" x2="1941.60" y2="791.00" stroke="#000" stroke-width="2.2" />
<rect x="1905.50" y="821.25" width="37.20" height="86.25" fill="#6aa8ff" />
<line x1="1906.60" y1="821.25" x2="1906.60" y2="907.50" stroke="#000" stroke-width="2.2" />
<line x1="1941.60" y1="821.25" x2="1941.60" y2="907.50" stroke="#000" stroke-width="2.2" />
<rect x="1905.50" y="939.00" width="37.20" height="121.00" fill="#6aa8ff" />
<line x1="1906.60" y1="939.00" x2="1906.60" y2="1060.00" stroke="#000" stroke-width="2.2" />
<line x1="1941.60" y1="939.00" x2="1941.60" y2="1060.00" stroke="#000" stroke-width="2.2" />
<line x1="1905.50" y1="772.35" x2="1942.70" y2="772.35" stroke="#000" stroke-width="2.2" />
<rect x="1947.20" y="698.50" width="37.20" height="92.50" fill="#a2a2a8" />
<line x1="1948.30" y1="698.50" x2="1948.30" y2="791.00" stroke="#000" stroke-width="2.2" />
<line x1="1983.30" y1="698.50" x2="1983.30" y2="791.00" stroke="#000" stroke-width="2.2" />
<rect x="1947.20" y="821.25" width="37.20" height="86.25" fill="#a2a2a8" />
<line x1="1948.30" y1="821.25" x2="1948.30" y2="907.50" stroke="#000" stroke-width="2.2" />
<line x1="1983.30" y1="821.25" x2="1983.30" y2="907.50" stroke="#000" stroke-width="2.2" />
<rect x="1947.20" y="939.00" width="37.20" height="121.00" fill="#a2a2a8" />
<line x1="1948.30" y1="939.00" x2="1948.30" y2="1060.00" stroke="#000" stroke-width="2.2" />
<line x1="1983.30" y1="939.00" x2="1983.30" y2="1060.00" stroke="#000" stroke-width="2.2" />
<line x1="1947.20" y1="699.60" x2="1984.40" y2="699.60" stroke="#000" stroke-width="2.2" />
<line x1="1500.00" y1="651.00" x2="1500.00" y2="791.00" stroke="#000" stroke-width="2.6" />
<line x1="1500.00" y1="821.25" x2="1500.00" y2="907.50" stroke="#000" stroke-width="2.6" />
<line x1="1500.00" y1="939.00" x2="1500.00" y2="1061.30" stroke="#000" stroke-width="2.6" />
<line x1="1488.75" y1="652.30" x2="1500.00" y2="652.30" stroke="#000" stroke-width="2.6" />
<line x1="1488.75" y1="687.90" x2="1500.00" y2="687.90" stroke="#000" stroke-width="2.6" />
<line x1="1488.75" y1="723.50" x2="1500.00" y2="723.50" stroke="#000" stroke-width="2.6" />
<line x1="1488.75" y1="758.90" x2="1500.00" y2="758.90" stroke="#000" stroke-width="2.6" />
<line x1="1489.50" y1="791.00" x2="1510.00" y2="791.00" stroke="#000" stroke-width="2.6" />
<line x1="1489.50" y1="821.25" x2="1510.00" y2="821.25" stroke="#000" stroke-width="2.6" />
<line x1="1488.75" y1="850.30" x2="1500.00" y2="850.30" stroke="#000" stroke-width="2.6" />
<line x1="1488.75" y1="879.20" x2="1500.00" y2="879.20" stroke="#000" stroke-width="2.6" />
<line x1="1489.50" y1="907.50" x2="1510.00" y2="907.50" stroke="#000" stroke-width="2.6" />
<line x1="1489.50" y1="939.00" x2="1510.00" y2="939.00" stroke="#000" stroke-width="2.6" />
<line x1="1488.75" y1="969.25" x2="1500.00" y2="969.25" stroke="#000" stroke-width="2.6" />
<line x1="1488.75" y1="999.50" x2="1500.00" y2="999.50" stroke="#000" stroke-width="2.6" />
<line x1="1488.75" y1="1029.75" x2="1500.00" y2="1029.75" stroke="#000" stroke-width="2.6" />
<line x1="1488.75" y1="1060.00" x2="2023.00" y2="1060.00" stroke="#000" stroke-width="2.6" />
<line x1="1597.50" y1="1060.00" x2="1597.50" y2="1076.30" stroke="#000" stroke-width="2.6" />
<line x1="1760.50" y1="1060.00" x2="1760.50" y2="1076.30" stroke="#000" stroke-width="2.6" />
<line x1="1923.20" y1="1060.00" x2="1923.20" y2="1076.30" stroke="#000" stroke-width="2.6" />
<circle cx="1588.75" cy="753.75" r="4.4" fill="#000"/>
<circle cx="1607.50" cy="758.00" r="4.4" fill="#000"/>
<circle cx="1630.25" cy="703.25" r="4.4" fill="#000"/>
<circle cx="1649.25" cy="707.00" r="4.4" fill="#000"/>
<circle cx="1751.25" cy="778.90" r="4.4" fill="#000"/>
<circle cx="1760.75" cy="769.90" r="4.4" fill="#000"/>
<circle cx="1770.00" cy="785.50" r="4.4" fill="#000"/>
<circle cx="1793.00" cy="759.25" r="4.4" fill="#000"/>
<circle cx="1811.75" cy="762.50" r="4.4" fill="#000"/>
<circle cx="1914.00" cy="765.00" r="4.4" fill="#000"/>
<circle cx="1932.50" cy="776.00" r="4.4" fill="#000"/>
<circle cx="1955.50" cy="687.25" r="4.4" fill="#000"/>
<circle cx="1974.25" cy="687.50" r="4.4" fill="#000"/>
<circle cx="1964.75" cy="718.75" r="4.4" fill="#000"/>
<circle cx="1556.25" cy="952.75" r="4.4" fill="#000"/>
<circle cx="1556.25" cy="977.50" r="4.4" fill="#000"/>
<circle cx="1706.50" cy="1045.00" r="4.4" fill="#000"/>
<circle cx="1719.25" cy="1053.25" r="4.4" fill="#000"/>
<circle cx="1732.00" cy="1056.00" r="4.4" fill="#000"/>
<circle cx="1869.00" cy="1010.00" r="4.4" fill="#000"/>
<circle cx="1881.75" cy="1017.00" r="4.4" fill="#000"/>
<circle cx="1894.50" cy="1017.75" r="4.4" fill="#000"/>
<text x="1431.42" y="659.50" font-size="22.7">4000</text>
<text x="1431.42" y="695.00" font-size="22.7">3000</text>
<text x="1431.42" y="730.70" font-size="22.7">2000</text>
<text x="1431.42" y="766.10" font-size="22.7">1000</text>
<text x="1456.67" y="828.40" font-size="22.7">80</text>
<text x="1456.67" y="857.40" font-size="22.7">70</text>
<text x="1456.67" y="886.45" font-size="22.7">60</text>
<text x="1456.67" y="915.50" font-size="22.7">50</text>
<text x="1468.94" y="949.50" font-size="22.7">8</text>
<text x="1468.94" y="979.90" font-size="22.7">6</text>
<text x="1468.23" y="1009.90" font-size="22.7">4</text>
<text x="1468.94" y="1040.30" font-size="22.7">2</text>
<text x="1469.30" y="1071.10" font-size="22.7">0</text>
<text x="-93.15" y="0.00" font-size="24.2" transform="translate(1422.50 858.20) rotate(-90) scale(1.033 1)">Absolute copies</text>
<text font-size="24.2" transform="translate(1382.19 1112.00) scale(1.033 1)">Events</text>
<text font-size="24.2" transform="translate(1382.19 1148.70) scale(1.033 1)">Patient ID</text>
<text font-size="24.2" transform="translate(1535.94 1113.60) scale(1.033 1)">LJ2-LV2-11</text>
<text font-size="24.2" transform="translate(1695.85 1113.60) scale(1.033 1)">LJ2-LV5-45</text>
<text font-size="24.2" transform="translate(1878.94 1113.60) scale(1.033 1)">LJ2-LV3-1</text>
<text font-size="24.2" transform="translate(1578.94 1150.60) scale(1.033 1)">R-8</text>
<text font-size="24.2" transform="translate(1739.69 1150.60) scale(1.033 1)">R-13</text>
<text font-size="24.2" transform="translate(1907.69 1150.60) scale(1.033 1)">R-9</text>
<rect x="2026.40" y="812.15" width="21.20" height="18.70" fill="#a5190f" stroke="#000" stroke-width="1.9" />
<text font-size="24.2" transform="translate(2058.61 828.00) scale(1.033 1)">SJ</text>
<rect x="2026.40" y="862.90" width="21.20" height="18.70" fill="#6aa8ff" stroke="#000" stroke-width="1.9" />
<text font-size="24.2" transform="translate(2057.44 880.50) scale(1.033 1)">REC</text>
<rect x="2026.40" y="913.90" width="21.20" height="18.70" fill="#a2a2a8" stroke="#000" stroke-width="1.9" />
<text class="i" font-size="24.2" transform="translate(2058.83 933.25) scale(1.033 1)">GAPDH</text>
<text class="p" font-size="32.8" transform="translate(44.75 1221.90) scale(0.98 1)">d</text>
<line x1="237.50" y1="1264.60" x2="237.50" y2="1420.25" stroke="#000" stroke-width="2.3" />
<line x1="237.50" y1="1447.50" x2="237.50" y2="1762.15" stroke="#000" stroke-width="2.3" />
<line x1="223.25" y1="1265.75" x2="237.50" y2="1265.75" stroke="#000" stroke-width="2.3" />
<line x1="223.25" y1="1343.00" x2="237.50" y2="1343.00" stroke="#000" stroke-width="2.3" />
<line x1="228.75" y1="1420.25" x2="246.75" y2="1420.25" stroke="#000" stroke-width="2.3" />
<line x1="228.75" y1="1447.50" x2="246.75" y2="1447.50" stroke="#000" stroke-width="2.3" />
<line x1="223.25" y1="1525.90" x2="237.50" y2="1525.90" stroke="#000" stroke-width="2.3" />
<line x1="223.25" y1="1604.25" x2="237.50" y2="1604.25" stroke="#000" stroke-width="2.3" />
<line x1="223.25" y1="1682.60" x2="237.50" y2="1682.60" stroke="#000" stroke-width="2.3" />
<line x1="223.25" y1="1761.00" x2="592.00" y2="1761.00" stroke="#000" stroke-width="2.3" />
<line x1="414.25" y1="1761.00" x2="414.25" y2="1775.75" stroke="#000" stroke-width="2.3" />
<text font-size="23.0" transform="translate(168.77 1273.65) scale(0.97 1)">4000</text>
<text font-size="23.0" transform="translate(168.77 1350.90) scale(0.97 1)">3500</text>
<text font-size="23.0" transform="translate(168.77 1428.15) scale(0.97 1)">3000</text>
<text font-size="23.0" transform="translate(168.77 1455.40) scale(0.97 1)">2000</text>
<text font-size="23.0" transform="translate(168.77 1533.80) scale(0.97 1)">1500</text>
<text font-size="23.0" transform="translate(168.77 1612.15) scale(0.97 1)">1000</text>
<text font-size="23.0" transform="translate(181.18 1690.50) scale(0.97 1)">500</text>
<text font-size="23.0" transform="translate(206.00 1768.90) scale(0.97 1)">0</text>
<text x="-142.71" y="0.00" font-size="24.2" transform="translate(153.00 1518.30) rotate(-90) scale(1.033 1)">Observed/Predicted ESC</text>
<text font-size="24.2" transform="translate(365.44 1805.00) scale(1.033 1)">Patients</text>
<circle cx="567.50" cy="1298.00" r="9.3" fill="#6c66f8"/>
<text font-size="24.2" transform="translate(587.19 1306.75) scale(1.033 1)">R-8</text>
<circle cx="567.50" cy="1339.50" r="9.3" fill="#fb2a1c"/>
<text font-size="24.2" transform="translate(587.19 1348.75) scale(1.033 1)">R-13</text>
<circle cx="414.50" cy="1506.25" r="5.6" fill="#000"/>
<circle cx="414.50" cy="1533.75" r="5.6" fill="#000"/>
<circle cx="414.50" cy="1590.00" r="5.6" fill="#000"/>
<circle cx="414.40" cy="1641.90" r="5.6" fill="#000"/>
<circle cx="418.10" cy="1646.25" r="5.6" fill="#000"/>
<circle cx="410.00" cy="1650.00" r="5.6" fill="#000"/>
<circle cx="414.10" cy="1658.75" r="5.6" fill="#000"/>
<circle cx="416.00" cy="1681.50" r="5.6" fill="#000"/>
<circle cx="411.00" cy="1696.50" r="5.6" fill="#000"/>
<circle cx="407.50" cy="1709.00" r="5.6" fill="#000"/>
<circle cx="414.40" cy="1707.50" r="5.6" fill="#000"/>
<circle cx="421.90" cy="1707.75" r="5.6" fill="#000"/>
<circle cx="410.00" cy="1718.75" r="5.6" fill="#000"/>
<circle cx="417.50" cy="1718.75" r="5.6" fill="#000"/>
<circle cx="407.50" cy="1723.00" r="5.6" fill="#000"/>
<circle cx="413.75" cy="1723.75" r="5.6" fill="#000"/>
<circle cx="420.00" cy="1723.75" r="5.6" fill="#000"/>
<circle cx="404.40" cy="1730.60" r="5.6" fill="#000"/>
<circle cx="410.00" cy="1728.75" r="5.6" fill="#000"/>
<circle cx="416.25" cy="1727.50" r="5.6" fill="#000"/>
<circle cx="421.90" cy="1726.90" r="5.6" fill="#000"/>
<circle cx="400.60" cy="1743.10" r="5.6" fill="#000"/>
<circle cx="406.25" cy="1745.00" r="5.6" fill="#000"/>
<circle cx="412.50" cy="1743.75" r="5.6" fill="#000"/>
<circle cx="418.75" cy="1741.25" r="5.6" fill="#000"/>
<circle cx="423.75" cy="1738.75" r="5.6" fill="#000"/>
<circle cx="428.10" cy="1736.90" r="5.6" fill="#000"/>
<circle cx="402.50" cy="1746.25" r="5.6" fill="#000"/>
<circle cx="414.40" cy="1745.60" r="5.6" fill="#000"/>
<circle cx="425.00" cy="1743.10" r="5.6" fill="#000"/>
<circle cx="332.50" cy="1754.00" r="5.6" fill="#000"/>
<circle cx="342.50" cy="1750.60" r="5.6" fill="#000"/>
<circle cx="353.00" cy="1748.80" r="5.6" fill="#000"/>
<circle cx="366.80" cy="1750.00" r="5.6" fill="#000"/>
<circle cx="339.00" cy="1759.50" r="5.6" fill="#000"/>
<circle cx="349.00" cy="1762.50" r="5.6" fill="#000"/>
<circle cx="360.00" cy="1762.00" r="5.6" fill="#000"/>
<circle cx="372.00" cy="1758.00" r="5.6" fill="#000"/>
<circle cx="377.50" cy="1761.50" r="5.6" fill="#000"/>
<circle cx="387.50" cy="1752.50" r="5.6" fill="#000"/>
<circle cx="383.00" cy="1758.50" r="5.6" fill="#000"/>
<circle cx="392.00" cy="1760.00" r="5.6" fill="#000"/>
<circle cx="397.50" cy="1757.50" r="5.6" fill="#000"/>
<circle cx="403.00" cy="1761.00" r="5.6" fill="#000"/>
<circle cx="408.00" cy="1757.00" r="5.6" fill="#000"/>
<circle cx="414.00" cy="1760.00" r="5.6" fill="#000"/>
<circle cx="420.00" cy="1757.00" r="5.6" fill="#000"/>
<circle cx="426.00" cy="1760.50" r="5.6" fill="#000"/>
<circle cx="432.00" cy="1758.00" r="5.6" fill="#000"/>
<circle cx="438.00" cy="1761.00" r="5.6" fill="#000"/>
<circle cx="444.00" cy="1759.00" r="5.6" fill="#000"/>
<circle cx="450.00" cy="1761.50" r="5.6" fill="#000"/>
<circle cx="456.00" cy="1758.50" r="5.6" fill="#000"/>
<circle cx="462.00" cy="1761.00" r="5.6" fill="#000"/>
<circle cx="468.00" cy="1757.00" r="5.6" fill="#000"/>
<circle cx="474.00" cy="1761.00" r="5.6" fill="#000"/>
<circle cx="480.00" cy="1762.00" r="5.6" fill="#000"/>
<circle cx="468.20" cy="1750.60" r="5.6" fill="#000"/>
<circle cx="485.00" cy="1746.90" r="5.6" fill="#000"/>
<circle cx="492.60" cy="1748.80" r="5.6" fill="#000"/>
<circle cx="496.30" cy="1753.00" r="5.6" fill="#000"/>
<circle cx="490.00" cy="1757.00" r="5.6" fill="#000"/>
<circle cx="484.00" cy="1760.50" r="5.6" fill="#000"/>
<circle cx="345.00" cy="1756.00" r="5.6" fill="#000"/>
<circle cx="356.00" cy="1755.00" r="5.6" fill="#000"/>
<circle cx="364.00" cy="1757.00" r="5.6" fill="#000"/>
<circle cx="414.50" cy="1352.50" r="9.5" fill="#6c66f8"/>
<circle cx="400.00" cy="1675.00" r="9.4" fill="#fb2a1c"/>
<text class="p" font-size="32.8" transform="translate(1041.00 1305.90) scale(0.98 1)">e</text>
<line x1="1180.50" y1="1384.75" x2="1207.00" y2="1384.75" stroke="#de2a2a" stroke-width="1.7" />
<line x1="1107.00" y1="1474.25" x2="1116.25" y2="1499.00" stroke="#de2a2a" stroke-width="1.7" />
<line x1="1279.25" y1="1477.50" x2="1267.00" y2="1500.50" stroke="#de2a2a" stroke-width="1.7" />
<path d="M1160.50,1523.00 A82.4,68.5 0 1 1 1224.50,1524.25" stroke="#000" stroke-width="1.7" fill="none" />
<polygon points="1192.75,1501.25 1224.50,1524.25 1192.75,1547.50" fill="#fff" stroke="#111" stroke-width="0.8" />
<polygon points="1160.50,1523.00 1192.75,1501.25 1192.75,1547.50" fill="#1a1a1a" stroke="#1a1a1a" stroke-width="0.6" />
<text font-size="24.2" transform="translate(1164.69 1471.75) scale(1.033 1)" fill="#de2a2a" style="stroke:#de2a2a">ESC</text>
<line x1="1307.50" y1="1472.75" x2="1354.75" y2="1472.75" stroke="#1a1a1a" stroke-width="1.6" />
<polygon points="1370.75,1472.75 1352.05,1464.95 1352.05,1480.55" fill="#1a1a1a" />
<text font-size="28.7" transform="translate(1153.68 1594.50) scale(1.015 1)">Phi29</text>
<text font-size="28.7" transform="translate(1027.68 1629.50) scale(1.015 1)">rolling circle replication</text>
<path d="M1533.00,1370.50 Q1552.50,1378.50 1561.24,1395.82 A90.53,75.13 0 0 1 1602.75,1494.74" stroke="#4db2e6" stroke-width="1.6" fill="none" stroke-linejoin="miter" stroke-miterlimit="6"/>
<polygon points="1599.26,1500.34 1600.05,1489.75 1608.21,1494.62" fill="#4db2e6" />
<path d="M1614.60,1512.30 Q1599.00,1516.20 1585.05,1515.85 A90.53,75.13 0 0 1 1436.23,1490.03" stroke="#4db2e6" stroke-width="1.6" fill="none" stroke-linejoin="miter" stroke-miterlimit="6"/>
<polygon points="1433.72,1483.83 1441.84,1490.68 1433.11,1494.44" fill="#4db2e6" />
<path d="M1411.80,1483.80 Q1418.50,1468.50 1430.54,1456.19 A90.53,75.13 0 0 1 1529.80,1388.25" stroke="#4db2e6" stroke-width="1.6" fill="none" stroke-linejoin="miter" stroke-miterlimit="6"/>
<polygon points="1536.42,1389.01 1526.49,1392.78 1527.45,1383.33" fill="#4db2e6" />
<line x1="1507.40" y1="1370.50" x2="1533.00" y2="1370.50" stroke="#de2a2a" stroke-width="1.7" />
<line x1="1626.50" y1="1489.40" x2="1614.60" y2="1512.30" stroke="#de2a2a" stroke-width="1.7" />
<line x1="1411.80" y1="1483.80" x2="1421.80" y2="1507.30" stroke="#de2a2a" stroke-width="1.7" />
<path d="M1487.80,1526.60 A82.4,68.5 0 1 1 1551.40,1527.20" stroke="#000" stroke-width="1.7" fill="none" />
<polygon points="1519.55,1503.80 1551.40,1527.20 1519.55,1550.40" fill="#fff" stroke="#111" stroke-width="0.8" />
<polygon points="1487.80,1526.60 1519.55,1503.80 1519.55,1550.40" fill="#1a1a1a" stroke="#1a1a1a" stroke-width="0.6" />
<line x1="1650.60" y1="1471.80" x2="1697.80" y2="1471.80" stroke="#1a1a1a" stroke-width="1.6" />
<polygon points="1713.80,1471.80 1695.10,1464.00 1695.10,1479.60" fill="#1a1a1a" />
<path d="M1877.99,1379.05 A110.94,92.47 0 0 1 1974.72,1451.77 Q1967.50,1470.50 1955.90,1485.30 L1955.19,1488.81 A91.52,76.28 0 0 1 1882.88,1546.01" stroke="#4db2e6" stroke-width="1.6" fill="none" stroke-linejoin="miter" stroke-miterlimit="6"/>
<path d="M1957.80,1435.40 A101.06,84.24 0 0 0 1872.85,1386.94" stroke="#4db2e6" stroke-width="1.6" fill="none" stroke-linejoin="miter" stroke-miterlimit="6"/>
<polygon points="1866.20,1386.76 1875.88,1382.39 1875.51,1391.88" fill="#4db2e6" />
<path d="M1958.71,1522.04 A110.94,92.47 0 0 1 1828.44,1557.95 L1816.36,1534.98 A91.52,76.28 0 0 1 1809.76,1410.95" stroke="#4db2e6" stroke-width="1.6" fill="none" stroke-linejoin="miter" stroke-miterlimit="6"/>
<polygon points="1815.42,1407.54 1809.88,1416.60 1804.85,1408.54" fill="#4db2e6" />
<path d="M1790.16,1415.51 A101.06,84.24 0 0 0 1778.91,1513.46" stroke="#4db2e6" stroke-width="1.6" fill="none" stroke-linejoin="miter" stroke-miterlimit="6"/>
<polygon points="1782.91,1518.71 1773.46,1513.87 1781.11,1508.25" fill="#4db2e6" />
<path d="M1769.93,1516.96 A110.94,92.47 0 0 1 1805.62,1393.53 Q1825.00,1393.80 1842.30,1397.30 L1855.05,1395.29 A91.52,76.28 0 0 1 1955.76,1455.30" stroke="#4db2e6" stroke-width="1.6" fill="none" stroke-linejoin="miter" stroke-miterlimit="6"/>
<polygon points="1957.05,1461.84 1950.36,1453.59 1959.64,1451.53" fill="#4db2e6" />
<path d="M1869.73,1555.19 A101.06,84.24 0 0 0 1954.37,1512.17" stroke="#4db2e6" stroke-width="1.6" fill="none" stroke-linejoin="miter" stroke-miterlimit="6"/>
<polygon points="1957.87,1506.47 1956.76,1517.03 1948.75,1511.92" fill="#4db2e6" />
<path d="M1856.63,1546.87 A91.52,76.28 0 0 1 1838.01,1543.57" stroke="#4db2e6" stroke-width="1.6" fill="none" stroke-linejoin="miter" stroke-miterlimit="6"/>
<polygon points="1831.62,1541.63 1842.07,1539.71 1839.42,1548.83" fill="#4db2e6" />
<line x1="1853.00" y1="1378.60" x2="1877.99" y2="1379.05" stroke="#de2a2a" stroke-width="1.7" />
<path d="M1964.83,1452.62 A101.06,84.24 0 0 0 1957.80,1435.40" stroke="#de2a2a" stroke-width="1.7" fill="none" />
<line x1="1970.60" y1="1498.20" x2="1958.71" y2="1522.04" stroke="#de2a2a" stroke-width="1.7" />
<path d="M1808.09,1402.08 A101.06,84.24 0 0 0 1790.16,1415.51" stroke="#de2a2a" stroke-width="1.7" fill="none" />
<line x1="1785.60" y1="1538.30" x2="1769.93" y2="1516.96" stroke="#de2a2a" stroke-width="1.7" />
<path d="M1832.13,1550.31 A101.06,84.24 0 0 0 1859.50,1555.06" stroke="#de2a2a" stroke-width="1.7" fill="none" />
<path d="M1833.10,1533.70 A82.4,68.5 0 1 1 1896.80,1534.50" stroke="#000" stroke-width="1.7" fill="none" />
<polygon points="1864.95,1511.40 1896.80,1534.50 1864.95,1558.10" fill="#fff" stroke="#111" stroke-width="0.8" />
<polygon points="1833.10,1533.70 1864.95,1511.40 1864.95,1558.10" fill="#1a1a1a" stroke="#1a1a1a" stroke-width="0.6" />
<line x1="1810.00" y1="1492.30" x2="1824.80" y2="1508.12" stroke="#2d2aa0" stroke-width="1.4" />
<polygon points="1828.90,1512.50 1818.78,1508.27 1825.35,1502.12" fill="#2d2aa0" />
<line x1="1927.70" y1="1492.10" x2="1912.03" y2="1508.64" stroke="#2d2aa0" stroke-width="1.4" />
<polygon points="1907.90,1513.00 1911.51,1502.65 1918.04,1508.84" fill="#2d2aa0" />
<text font-size="28.7" transform="translate(1789.24 1628.30) scale(1.015 1)">Amplify ESC</text>
<text class="p" font-size="32.8" transform="translate(48.75 1843.70) scale(0.98 1)">f</text>
<rect x="262.60" y="2127.00" width="51.00" height="55.40" fill="#f08023" />
<rect x="262.60" y="2211.75" width="51.00" height="223.25" fill="#f08023" />
<rect x="466.10" y="1969.40" width="51.00" height="213.00" fill="#f08023" />
<rect x="466.10" y="2211.75" width="51.00" height="223.25" fill="#f08023" />
<rect x="669.20" y="2143.50" width="51.00" height="38.90" fill="#f08023" />
<rect x="669.20" y="2211.75" width="51.00" height="223.25" fill="#f08023" />
<rect x="339.20" y="2299.25" width="51.00" height="135.75" fill="#6aa8ff" />
<rect x="542.30" y="2387.75" width="51.00" height="47.25" fill="#6aa8ff" />
<rect x="745.30" y="2373.00" width="51.00" height="62.00" fill="#6aa8ff" />
<line x1="237.50" y1="1897.05" x2="237.50" y2="2182.00" stroke="#000" stroke-width="2.4" />
<line x1="237.50" y1="2211.75" x2="237.50" y2="2436.20" stroke="#000" stroke-width="2.4" />
<line x1="227.00" y1="1898.25" x2="237.50" y2="1898.25" stroke="#000" stroke-width="2.4" />
<line x1="227.00" y1="1955.00" x2="237.50" y2="1955.00" stroke="#000" stroke-width="2.4" />
<line x1="227.00" y1="2011.80" x2="237.50" y2="2011.80" stroke="#000" stroke-width="2.4" />
<line x1="227.00" y1="2068.60" x2="237.50" y2="2068.60" stroke="#000" stroke-width="2.4" />
<line x1="227.00" y1="2125.40" x2="237.50" y2="2125.40" stroke="#000" stroke-width="2.4" />
<line x1="228.25" y1="2182.00" x2="247.50" y2="2182.00" stroke="#000" stroke-width="2.4" />
<line x1="228.25" y1="2211.75" x2="247.50" y2="2211.75" stroke="#000" stroke-width="2.4" />
<line x1="227.00" y1="2267.50" x2="237.50" y2="2267.50" stroke="#000" stroke-width="2.4" />
<line x1="227.00" y1="2323.30" x2="237.50" y2="2323.30" stroke="#000" stroke-width="2.4" />
<line x1="227.00" y1="2379.10" x2="237.50" y2="2379.10" stroke="#000" stroke-width="2.4" />
<line x1="227.00" y1="2435.00" x2="823.75" y2="2435.00" stroke="#000" stroke-width="2.4" />
<line x1="326.25" y1="2435.00" x2="326.25" y2="2450.75" stroke="#000" stroke-width="2.4" />
<line x1="529.25" y1="2435.00" x2="529.25" y2="2450.75" stroke="#000" stroke-width="2.4" />
<line x1="732.00" y1="2435.00" x2="732.00" y2="2450.75" stroke="#000" stroke-width="2.4" />
<circle cx="275.50" cy="2115.50" r="5.9" fill="#000"/>
<circle cx="300.75" cy="2119.00" r="5.9" fill="#000"/>
<circle cx="288.25" cy="2147.00" r="5.9" fill="#000"/>
<circle cx="364.75" cy="2273.50" r="5.9" fill="#000"/>
<circle cx="352.00" cy="2307.25" r="5.9" fill="#000"/>
<circle cx="377.50" cy="2318.25" r="5.9" fill="#000"/>
<circle cx="491.20" cy="1949.60" r="5.9" fill="#000"/>
<circle cx="478.70" cy="1977.00" r="5.9" fill="#000"/>
<circle cx="504.20" cy="1981.20" r="5.9" fill="#000"/>
<circle cx="567.75" cy="2373.75" r="5.9" fill="#000"/>
<circle cx="555.00" cy="2391.00" r="5.9" fill="#000"/>
<circle cx="580.50" cy="2399.50" r="5.9" fill="#000"/>
<circle cx="681.70" cy="2129.40" r="5.9" fill="#000"/>
<circle cx="707.20" cy="2141.60" r="5.9" fill="#000"/>
<circle cx="694.60" cy="2160.60" r="5.9" fill="#000"/>
<circle cx="770.50" cy="2363.00" r="5.9" fill="#000"/>
<circle cx="757.75" cy="2374.00" r="5.9" fill="#000"/>
<circle cx="783.25" cy="2382.50" r="5.9" fill="#000"/>
<text font-size="23.4" transform="translate(178.21 1905.05) scale(0.985 1)">0.55</text>
<text font-size="23.4" transform="translate(178.21 1961.80) scale(0.985 1)">0.45</text>
<text font-size="23.4" transform="translate(178.21 2018.60) scale(0.985 1)">0.35</text>
<text font-size="23.4" transform="translate(178.21 2075.40) scale(0.985 1)">0.25</text>
<text font-size="23.4" transform="translate(178.21 2132.20) scale(0.985 1)">0.15</text>
<text font-size="23.4" transform="translate(178.21 2188.80) scale(0.985 1)">0.05</text>
<text font-size="23.4" transform="translate(161.65 2218.55) scale(0.985 1)">0.008</text>
<text font-size="23.4" transform="translate(161.65 2274.30) scale(0.985 1)">0.006</text>
<text font-size="23.4" transform="translate(160.92 2330.10) scale(0.985 1)">0.004</text>
<text font-size="23.4" transform="translate(161.65 2385.90) scale(0.985 1)">0.002</text>
<text font-size="23.4" transform="translate(162.01 2441.80) scale(0.985 1)">0.000</text>
<text x="-76.72" y="0.00" font-size="24.2" transform="translate(148.25 2176.40) rotate(-90) scale(1.033 1)">Relative level</text>
<text x="445.22" y="1902.00" font-size="24.5"><tspan class="i">P</tspan><tspan> = 2.32e-11</tspan></text>
<text font-size="24.2" transform="translate(109.19 2489.50) scale(1.033 1)">Events</text>
<text font-size="24.2" transform="translate(109.19 2530.50) scale(1.033 1)">Patient ID</text>
<text font-size="24.2" transform="translate(258.96 2491.60) scale(1.015 1)">LJ2-LV2-11</text>
<text font-size="24.2" transform="translate(462.96 2491.60) scale(1.015 1)">LJ2-LV5-45</text>
<text font-size="24.2" transform="translate(667.21 2491.60) scale(1.015 1)">LJ2-LV3-1</text>
<text font-size="24.2" transform="translate(310.21 2531.50) scale(1.015 1)">R-8</text>
<text font-size="24.2" transform="translate(500.96 2531.50) scale(1.015 1)">R-13</text>
<text font-size="24.2" transform="translate(708.46 2531.50) scale(1.015 1)">R-9</text>
<rect x="864.20" y="2112.30" width="15.20" height="14.50" fill="#f08023" />
<rect x="864.20" y="2173.20" width="15.20" height="14.50" fill="#6aa8ff" />
<text font-size="24.2" transform="translate(908.70 2130.60) scale(1.033 1)">Treated</text>
<text font-size="24.2" transform="translate(912.03 2189.50) scale(1.033 1)">Untreated</text>
<text class="p" font-size="32.8" transform="translate(1045.25 1842.40) scale(0.98 1)">g</text>
<rect x="1421.10" y="2123.60" width="45.90" height="89.20" fill="#f08023" />
<rect x="1421.10" y="2242.50" width="45.90" height="227.70" fill="#f08023" />
<rect x="1513.20" y="2350.00" width="45.60" height="120.20" fill="#6aa8ff" />
<line x1="1374.70" y1="1932.05" x2="1374.70" y2="2212.80" stroke="#000" stroke-width="2.4" />
<line x1="1374.70" y1="2242.50" x2="1374.70" y2="2471.40" stroke="#000" stroke-width="2.4" />
<line x1="1364.50" y1="1933.25" x2="1374.70" y2="1933.25" stroke="#000" stroke-width="2.4" />
<line x1="1364.50" y1="2003.10" x2="1374.70" y2="2003.10" stroke="#000" stroke-width="2.4" />
<line x1="1364.50" y1="2073.00" x2="1374.70" y2="2073.00" stroke="#000" stroke-width="2.4" />
<line x1="1364.50" y1="2142.90" x2="1374.70" y2="2142.90" stroke="#000" stroke-width="2.4" />
<line x1="1364.50" y1="2212.80" x2="1384.50" y2="2212.80" stroke="#000" stroke-width="2.4" />
<line x1="1364.50" y1="2242.50" x2="1384.50" y2="2242.50" stroke="#000" stroke-width="2.4" />
<line x1="1364.50" y1="2299.40" x2="1374.70" y2="2299.40" stroke="#000" stroke-width="2.4" />
<line x1="1364.50" y1="2356.40" x2="1374.70" y2="2356.40" stroke="#000" stroke-width="2.4" />
<line x1="1364.50" y1="2413.30" x2="1374.70" y2="2413.30" stroke="#000" stroke-width="2.4" />
<line x1="1364.50" y1="2470.20" x2="1671.10" y2="2470.20" stroke="#000" stroke-width="2.4" />
<line x1="1444.20" y1="2470.20" x2="1444.20" y2="2485.70" stroke="#000" stroke-width="2.4" />
<line x1="1536.00" y1="2470.20" x2="1536.00" y2="2485.70" stroke="#000" stroke-width="2.4" />
<line x1="1625.20" y1="2470.20" x2="1625.20" y2="2485.70" stroke="#000" stroke-width="2.4" />
<circle cx="1443.75" cy="2003.50" r="6.2" fill="#000"/>
<circle cx="1432.40" cy="2182.10" r="6.2" fill="#000"/>
<circle cx="1455.20" cy="2186.10" r="6.2" fill="#000"/>
<circle cx="1535.80" cy="2322.30" r="6.2" fill="#000"/>
<circle cx="1535.80" cy="2378.10" r="6.2" fill="#000"/>
<circle cx="1615.00" cy="2470.00" r="6.2" fill="#000"/>
<circle cx="1635.70" cy="2470.00" r="6.2" fill="#000"/>
<text x="1323.35" y="1943.05" font-size="24.5">0.5</text>
<text x="1322.59" y="2012.90" font-size="24.5">0.4</text>
<text x="1323.35" y="2082.80" font-size="24.5">0.3</text>
<text x="1323.35" y="2152.70" font-size="24.5">0.2</text>
<text x="1323.35" y="2222.60" font-size="24.5">0.1</text>
<text x="1292.93" y="2252.30" font-size="24.5">0.004</text>
<text x="1293.70" y="2309.20" font-size="24.5">0.003</text>
<text x="1293.70" y="2366.20" font-size="24.5">0.002</text>
<text x="1293.70" y="2423.10" font-size="24.5">0.001</text>
<text x="1294.08" y="2480.00" font-size="24.5">0.000</text>
<text x="-76.72" y="0.00" font-size="24.2" transform="translate(1278.50 2198.20) rotate(-90) scale(1.033 1)">Relative level</text>
<text font-size="24.2" transform="translate(1478.60 1934.60) scale(1.033 1)">Jκ5-Vκ11</text>
<text x="-84.53" y="0.00" font-size="24.2" transform="translate(1453.50 2509.30) rotate(-41.5) scale(1.033 1)">Treated</text>
<text x="-111.41" y="0.00" font-size="24.2" transform="translate(1548.90 2510.00) rotate(-41.5) scale(1.033 1)">Untreated</text>
<text x="-222.37" y="0.00" font-size="24.2" transform="translate(1635.90 2509.60) rotate(-41.5) scale(1.033 1)">Sonicated + treated</text>
</svg>
</body>
</html>
